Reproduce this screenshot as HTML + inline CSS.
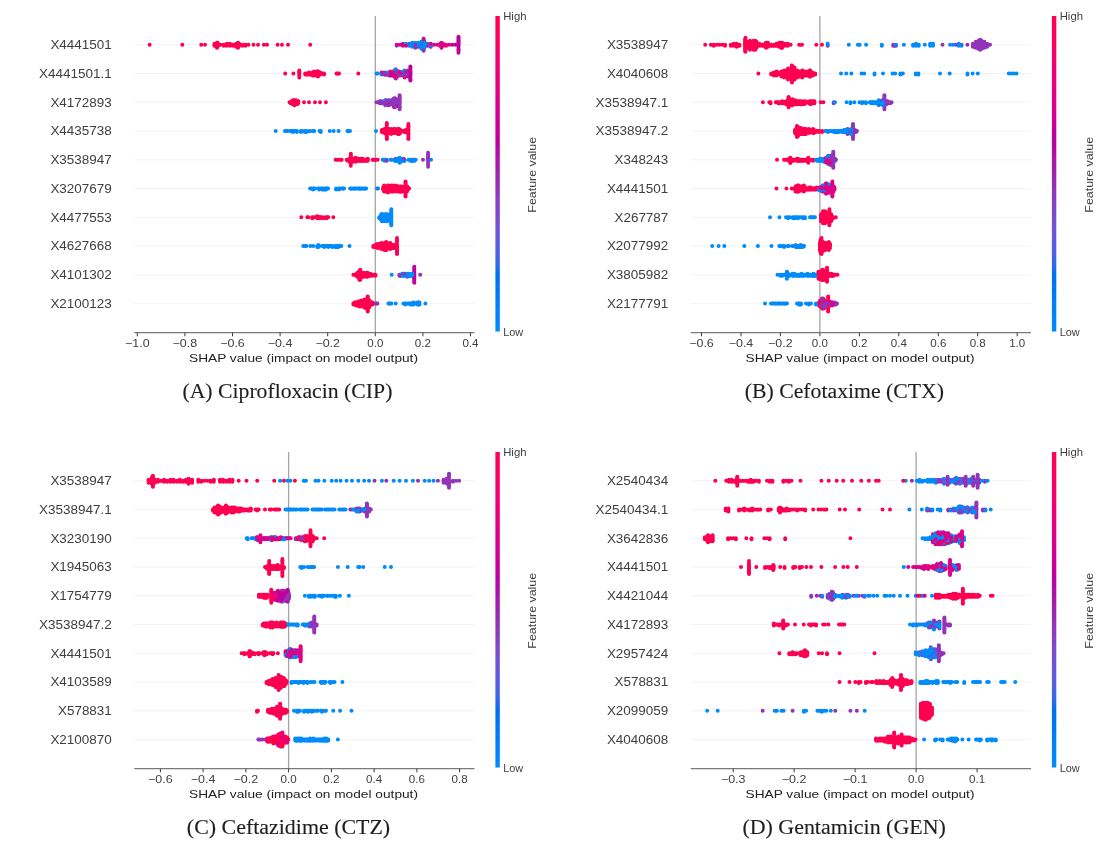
<!DOCTYPE html><html><head><meta charset="utf-8"><style>html,body{margin:0;padding:0;background:#fff;}svg{display:block;will-change:transform;}</style></head><body>
<svg width="1119" height="853" viewBox="0 0 1119 853">
<defs><linearGradient id="cb" x1="0" y1="0" x2="0" y2="1"><stop offset="0.000" stop-color="#ff0051"/><stop offset="0.030" stop-color="#ff0058"/><stop offset="0.061" stop-color="#fd005f"/><stop offset="0.091" stop-color="#fa0065"/><stop offset="0.121" stop-color="#f6006c"/><stop offset="0.152" stop-color="#f10072"/><stop offset="0.182" stop-color="#ec0078"/><stop offset="0.212" stop-color="#e7007e"/><stop offset="0.242" stop-color="#e10084"/><stop offset="0.273" stop-color="#db008a"/><stop offset="0.303" stop-color="#d40090"/><stop offset="0.333" stop-color="#cd0095"/><stop offset="0.364" stop-color="#c5009a"/><stop offset="0.394" stop-color="#bc009f"/><stop offset="0.424" stop-color="#b30aa3"/><stop offset="0.455" stop-color="#aa17a7"/><stop offset="0.485" stop-color="#a01fab"/><stop offset="0.515" stop-color="#9829b1"/><stop offset="0.545" stop-color="#9233b9"/><stop offset="0.576" stop-color="#8a3cc0"/><stop offset="0.606" stop-color="#8244c7"/><stop offset="0.636" stop-color="#794cce"/><stop offset="0.667" stop-color="#6f52d4"/><stop offset="0.697" stop-color="#6459da"/><stop offset="0.727" stop-color="#575fdf"/><stop offset="0.758" stop-color="#4664e4"/><stop offset="0.788" stop-color="#306ae9"/><stop offset="0.818" stop-color="#006fed"/><stop offset="0.848" stop-color="#0074f0"/><stop offset="0.879" stop-color="#0079f3"/><stop offset="0.909" stop-color="#007ef6"/><stop offset="0.939" stop-color="#0082f8"/><stop offset="0.970" stop-color="#0086fa"/><stop offset="1.000" stop-color="#008bfb"/><stop offset="1" stop-color="#008bfb"/></linearGradient></defs>
<rect width="1119" height="853" fill="#fff"/>
<g font-family='"Liberation Sans", sans-serif'><line x1="134.3" y1="44.75" x2="474.5" y2="44.75" stroke="#f3f3f3" stroke-width="1"/><line x1="134.3" y1="73.51" x2="474.5" y2="73.51" stroke="#f3f3f3" stroke-width="1"/><line x1="134.3" y1="102.27" x2="474.5" y2="102.27" stroke="#f3f3f3" stroke-width="1"/><line x1="134.3" y1="131.03" x2="474.5" y2="131.03" stroke="#f3f3f3" stroke-width="1"/><line x1="134.3" y1="159.79" x2="474.5" y2="159.79" stroke="#f3f3f3" stroke-width="1"/><line x1="134.3" y1="188.55" x2="474.5" y2="188.55" stroke="#f3f3f3" stroke-width="1"/><line x1="134.3" y1="217.31" x2="474.5" y2="217.31" stroke="#f3f3f3" stroke-width="1"/><line x1="134.3" y1="246.07" x2="474.5" y2="246.07" stroke="#f3f3f3" stroke-width="1"/><line x1="134.3" y1="274.83" x2="474.5" y2="274.83" stroke="#f3f3f3" stroke-width="1"/><line x1="134.3" y1="303.59" x2="474.5" y2="303.59" stroke="#f3f3f3" stroke-width="1"/><line x1="375.3" y1="16.0" x2="375.3" y2="332.7" stroke="#a5a5a5" stroke-width="1.3"/><g transform="translate(0,0)"><g fill="none" stroke-width="4" stroke-linecap="round"><path d="M396.7 45.8h0M412.2 43.8h0M423.6 39.8h0M427.6 43.8h0M421.4 41.8h0M423.6 43.8h0M424.5 41.8h0M412.2 46.8h0M415.3 46.8h0M421.4 44.8h0M418.3 44.8h0M421.4 47.8h0M409.1 43.8h0M404.1 73.5h0M395.4 74.5h0M376.6 73.5h0M401.6 74.5h0M393.0 105.3h0M385.3 100.3h0M304.9 132.0h0M320.8 131.0h0M376.0 131.0h0M320.8 132.0h0M319.5 131.0h0M308.9 131.0h0M310.2 131.0h0M306.2 131.0h0M275.7 131.0h0M296.9 132.0h0M294.3 131.0h0M431.0 159.8h0M384.7 160.8h0M414.7 159.8h0M384.7 159.8h0M397.7 159.8h0M404.7 160.8h0M403.7 159.8h0M399.6 162.8h0M398.7 159.8h0M398.7 158.8h0M391.7 159.8h0M399.6 161.8h0M395.7 160.8h0M412.7 160.8h0M362.1 188.6h0M310.1 188.6h0M318.1 188.6h0M359.1 188.6h0M378.1 188.6h0M327.1 188.6h0M325.1 188.6h0M365.1 188.6h0M354.1 188.6h0M319.1 189.6h0M339.1 188.6h0M388.3 219.3h0M386.3 220.3h0M384.3 221.3h0M385.3 219.3h0M380.3 216.3h0M391.3 222.3h0M388.3 216.3h0M388.3 220.3h0M384.3 214.3h0M385.3 218.3h0M384.3 216.3h0M391.3 214.3h0M389.3 220.3h0M385.3 216.3h0M381.3 220.3h0M391.3 211.3h0M387.3 221.3h0M381.3 217.3h0M391.3 220.3h0M381.3 218.3h0M386.3 218.3h0M382.3 218.3h0M384.3 218.3h0M379.3 217.3h0M380.3 218.3h0M388.3 215.3h0M387.3 219.3h0M391.3 217.3h0M331.3 246.1h0M305.3 246.1h0M328.3 247.1h0M318.3 245.1h0M330.3 246.1h0M341.3 246.1h0M322.3 246.1h0M317.3 246.1h0M329.3 246.1h0M408.4 273.8h0M405.4 275.8h0M412.4 275.8h0M401.4 274.8h0M407.4 273.8h0M404.4 275.8h0M406.4 274.8h0M410.4 275.8h0M400.4 274.8h0M395.7 303.6h0M419.4 304.6h0M425.4 303.6h0M411.4 303.6h0M418.4 302.6h0M412.4 303.6h0M413.4 302.6h0M410.4 304.6h0M414.4 303.6h0" stroke="#008bfb"/><path d="M458.5 37.8h0M458.5 39.8h0M423.6 47.8h0M427.6 45.8h0M418.3 46.8h0M458.5 42.8h0M440.0 45.8h0M458.5 44.8h0M455.4 44.8h0M452.3 44.8h0M410.4 79.5h0M410.4 74.5h0M404.1 72.5h0M410.4 72.5h0M389.1 72.5h0M401.6 73.5h0M407.9 74.5h0M407.9 71.5h0M394.1 71.5h0M389.7 102.3h0M396.3 100.3h0M395.0 102.3h0M388.6 105.3h0M393.0 101.3h0M414.3 276.8h0M414.3 268.8h0M414.3 269.8h0M414.3 274.8h0M414.3 278.8h0" stroke="#bf009d"/><path d="M217.0 47.8h0M238.0 42.8h0M214.5 45.8h0M443.1 44.8h0M238.0 44.8h0M282.0 44.8h0M253.5 44.8h0M239.2 44.8h0M226.8 43.8h0M201.3 44.8h0M226.8 45.8h0M267.0 44.8h0M236.1 46.8h0M239.2 45.8h0M217.6 44.8h0M277.6 44.8h0M238.0 45.8h0M217.0 43.8h0M390.4 72.5h0M299.3 73.5h0M339.0 73.5h0M299.3 76.5h0M391.6 75.5h0M385.4 73.5h0M314.0 72.5h0M299.3 75.5h0M395.7 78.5h0M396.6 72.5h0M299.3 71.5h0M315.2 74.5h0M406.6 75.5h0M317.8 71.5h0M317.8 75.5h0M320.3 74.5h0M395.7 73.5h0M315.2 72.5h0M310.2 73.5h0M299.3 77.5h0M311.5 74.5h0M318.0 72.5h0M299.3 74.5h0M387.9 73.5h0M316.5 75.5h0M322.8 73.5h0M336.5 73.5h0M404.5 73.5h0M297.2 103.3h0M291.7 102.3h0M293.9 104.3h0M294.4 100.3h0M309.0 102.3h0M295.0 101.3h0M293.9 103.3h0M293.9 101.3h0M292.8 101.3h0M296.1 101.3h0M297.2 101.3h0M290.6 102.3h0M289.5 102.3h0M381.9 130.0h0M397.8 129.0h0M399.1 130.0h0M392.5 132.0h0M383.2 132.0h0M385.8 129.0h0M386.8 137.0h0M397.8 130.0h0M384.5 133.0h0M393.8 130.0h0M386.8 129.0h0M395.1 131.0h0M400.4 131.0h0M400.4 130.0h0M398.6 132.0h0M400.4 133.0h0M408.4 129.0h0M392.5 130.0h0M396.5 130.0h0M391.1 130.0h0M398.6 131.0h0M408.4 131.0h0M386.8 138.0h0M408.4 124.0h0M391.1 131.0h0M392.5 131.0h0M408.4 128.0h0M392.5 133.0h0M408.4 139.0h0M397.8 133.0h0M391.1 133.0h0M408.4 125.0h0M388.5 132.0h0M408.4 132.0h0M381.9 131.0h0M408.4 133.0h0M389.8 133.0h0M338.7 159.8h0M362.7 159.8h0M353.7 159.8h0M366.7 159.8h0M362.7 160.8h0M357.7 159.8h0M355.7 159.8h0M356.7 160.8h0M355.7 161.8h0M375.7 159.8h0M335.7 159.8h0M361.7 160.8h0M354.7 160.8h0M355.7 160.8h0M350.8 162.8h0M350.8 155.8h0M360.7 159.8h0M367.7 160.8h0M355.7 158.8h0M354.7 159.8h0M337.7 159.8h0M359.7 159.8h0M347.7 160.8h0M353.7 160.8h0M361.7 159.8h0M341.7 159.8h0M360.7 158.8h0M350.8 153.8h0M409.1 188.6h0M408.1 189.6h0M405.5 190.6h0M394.1 189.6h0M388.0 186.6h0M402.1 187.6h0M385.1 189.6h0M385.1 188.6h0M383.1 189.6h0M391.1 190.6h0M397.1 188.6h0M400.1 188.6h0M399.1 188.6h0M396.1 191.6h0M399.1 190.6h0M400.1 190.6h0M388.1 191.6h0M392.1 189.6h0M388.0 191.6h0M407.0 190.6h0M407.1 189.6h0M396.1 187.6h0M384.1 185.6h0M397.1 186.6h0M398.1 189.6h0M395.1 189.6h0M388.0 192.6h0M386.1 187.6h0M390.1 188.6h0M402.1 188.6h0M389.1 190.6h0M394.1 187.6h0M393.1 191.6h0M405.5 186.6h0M407.0 188.6h0M393.1 185.6h0M408.1 188.6h0M399.1 189.6h0M405.5 182.6h0M396.1 185.6h0M389.1 188.6h0M405.5 185.6h0M387.1 189.6h0M400.1 191.6h0M405.5 192.6h0M385.1 187.6h0M393.1 190.6h0M405.5 187.6h0M390.1 189.6h0M402.1 191.6h0M396.1 190.6h0M384.1 186.6h0M387.1 188.6h0M402.1 190.6h0M323.3 218.3h0M328.3 217.3h0M323.3 217.3h0M319.3 217.3h0M321.3 217.3h0M317.3 218.3h0M316.3 217.3h0M307.3 217.3h0M333.3 217.3h0M391.3 247.1h0M397.0 251.1h0M390.3 245.1h0M380.3 247.1h0M376.3 246.1h0M385.8 250.1h0M395.3 246.1h0M391.3 246.1h0M385.8 248.1h0M380.3 246.1h0M385.8 247.1h0M385.3 245.1h0M390.3 247.1h0M383.3 248.1h0M390.3 243.1h0M393.3 245.1h0M388.3 246.1h0M381.3 248.1h0M378.3 244.1h0M381.3 243.1h0M384.3 245.1h0M375.3 247.1h0M392.3 248.1h0M397.0 254.1h0M390.3 244.1h0M386.3 249.1h0M376.3 245.1h0M385.3 247.1h0M381.3 249.1h0M389.3 245.1h0M397.0 248.1h0M384.3 244.1h0M394.3 245.1h0M393.3 246.1h0M379.3 247.1h0M383.3 245.1h0M385.3 243.1h0M397.0 246.1h0M385.3 249.1h0M377.3 246.1h0M390.3 248.1h0M383.3 246.1h0M383.3 247.1h0M384.3 248.1h0M384.3 246.1h0M385.8 245.1h0M365.4 275.8h0M360.3 276.8h0M360.4 276.8h0M360.3 269.8h0M362.4 273.8h0M363.4 276.8h0M360.3 274.8h0M369.4 273.8h0M366.4 272.8h0M359.4 275.8h0M364.4 274.8h0M353.4 274.8h0M358.4 274.8h0M368.4 275.8h0M359.4 278.8h0M359.4 271.8h0M356.4 275.8h0M360.3 273.8h0M359.4 277.8h0M357.4 272.8h0M360.3 275.8h0M361.4 276.8h0M356.4 273.8h0M360.3 272.8h0M369.4 275.8h0M361.4 273.8h0M359.4 270.8h0M366.5 308.6h0M361.4 303.6h0M365.4 301.6h0M366.5 305.6h0M358.4 302.6h0M356.4 302.6h0M366.5 306.6h0M371.4 304.6h0M366.4 305.6h0M366.4 304.6h0M360.4 305.6h0M365.4 306.6h0M363.4 303.6h0M369.0 302.6h0M369.0 307.6h0M364.4 302.6h0M356.4 305.6h0M358.4 305.6h0M366.5 300.6h0M364.4 306.6h0M364.4 300.6h0M369.4 304.6h0M361.4 306.6h0M367.7 302.6h0M362.4 305.6h0M363.4 305.6h0M355.4 304.6h0M361.4 302.6h0M367.7 308.6h0M367.7 297.6h0M360.4 304.6h0M369.0 301.6h0M365.4 307.6h0M363.4 302.6h0M360.4 302.6h0M357.4 303.6h0M372.4 303.6h0M361.4 305.6h0M364.4 305.6h0M367.7 301.6h0M370.4 302.6h0M369.0 306.6h0" stroke="#ff0051"/><path d="M409.1 44.8h0M415.3 45.8h0M421.4 43.8h0M412.2 44.8h0M423.6 49.8h0M402.9 43.8h0M406.0 44.8h0M404.5 76.5h0M391.6 74.5h0M395.7 74.5h0M406.6 73.5h0M394.1 101.3h0M384.2 103.3h0M391.9 102.3h0M395.2 105.3h0M394.1 106.3h0M399.6 97.3h0M399.6 104.3h0M395.2 99.3h0M395.2 101.3h0M379.8 103.3h0M378.7 102.3h0M379.8 102.3h0M387.5 104.3h0M388.6 103.3h0M399.6 106.3h0M399.6 105.3h0M395.2 100.3h0M385.3 102.3h0M389.7 103.3h0M395.2 104.3h0M399.6 102.3h0M379.8 101.3h0M391.9 103.3h0M399.6 95.3h0M395.2 103.3h0M396.3 104.3h0M385.3 101.3h0M389.7 104.3h0M390.8 101.3h0M390.8 104.3h0M386.4 101.3h0M396.3 101.3h0M428.1 157.8h0M383.7 159.8h0M411.7 159.8h0M394.7 159.8h0M413.7 159.8h0M395.7 158.8h0M404.4 274.8h0M420.2 274.8h0M399.4 274.8h0M400.4 275.8h0M401.4 275.8h0M375.4 303.6h0M377.4 303.6h0" stroke="#9233b9"/><path d="M449.2 44.8h0M436.9 44.8h0M441.5 46.8h0M421.4 45.8h0M396.6 75.5h0M406.6 72.5h0M384.1 72.5h0M392.9 73.5h0M395.4 71.5h0M389.1 75.5h0M391.6 72.5h0M402.9 72.5h0M400.4 72.5h0M404.1 74.5h0M397.9 73.5h0M399.1 72.5h0M407.9 70.5h0M399.1 73.5h0M399.1 71.5h0M381.6 72.5h0M397.9 72.5h0M400.4 74.5h0" stroke="#df0086"/><path d="M242.3 44.8h0M223.7 45.8h0M310.2 44.8h0M217.0 46.8h0M248.4 44.8h0M245.4 44.8h0M446.1 45.8h0M229.9 44.8h0M229.9 45.8h0M233.0 44.8h0M217.6 42.8h0M226.8 44.8h0M238.0 43.8h0M239.2 43.8h0M217.6 46.8h0M238.0 46.8h0M236.1 45.8h0M263.9 44.8h0M236.1 44.8h0M214.5 43.8h0M312.7 72.5h0M318.0 76.5h0M305.2 73.5h0M407.9 75.5h0M306.5 73.5h0M314.0 74.5h0M405.4 75.5h0M306.5 74.5h0M299.3 70.5h0M404.5 77.5h0M317.8 72.5h0M319.0 73.5h0M318.0 71.5h0M285.2 73.5h0M395.7 77.5h0M314.0 75.5h0M307.7 73.5h0M314.0 73.5h0M395.7 76.5h0M299.3 72.5h0M314.0 71.5h0M312.7 75.5h0M309.0 73.5h0M316.5 73.5h0M305.2 74.5h0M396.6 70.5h0M324.0 74.5h0M310.2 74.5h0M309.0 74.5h0M312.7 74.5h0M309.0 72.5h0M320.0 102.3h0M304.0 102.3h0M290.6 103.3h0M296.1 102.3h0M298.3 103.3h0M294.4 101.3h0M294.4 105.3h0M298.3 101.3h0M297.2 104.3h0M291.7 103.3h0M296.1 103.3h0M297.2 102.3h0M294.4 104.3h0M292.8 102.3h0M295.0 102.3h0M386.8 125.0h0M388.5 131.0h0M384.5 129.0h0M393.8 132.0h0M385.8 133.0h0M404.4 131.0h0M395.1 129.0h0M388.5 133.0h0M389.8 132.0h0M404.4 132.0h0M405.7 130.0h0M391.1 129.0h0M389.8 130.0h0M393.8 133.0h0M408.4 136.0h0M386.8 133.0h0M405.7 132.0h0M395.1 133.0h0M408.4 137.0h0M396.5 131.0h0M408.4 127.0h0M398.6 130.0h0M405.7 131.0h0M385.8 131.0h0M386.8 132.0h0M408.4 135.0h0M398.6 134.0h0M386.8 126.0h0M385.8 130.0h0M389.8 129.0h0M386.8 130.0h0M385.8 132.0h0M408.4 138.0h0M386.8 127.0h0M399.1 132.0h0M383.2 130.0h0M367.7 159.8h0M359.7 160.8h0M372.7 159.8h0M363.7 159.8h0M349.7 161.8h0M349.7 158.8h0M347.7 159.8h0M366.7 160.8h0M365.7 160.8h0M377.7 159.8h0M346.7 159.8h0M356.7 159.8h0M364.7 160.8h0M352.7 161.8h0M364.7 159.8h0M348.7 159.8h0M352.7 160.8h0M352.7 158.8h0M354.7 158.8h0M395.1 187.6h0M405.5 183.6h0M388.1 188.6h0M405.5 188.6h0M394.1 190.6h0M400.1 187.6h0M389.1 187.6h0M386.1 186.6h0M390.1 190.6h0M396.1 186.6h0M388.0 190.6h0M389.1 189.6h0M407.0 186.6h0M384.1 189.6h0M399.1 187.6h0M387.1 187.6h0M391.1 188.6h0M392.1 187.6h0M407.1 190.6h0M398.1 188.6h0M394.1 186.6h0M398.1 186.6h0M391.1 191.6h0M405.5 184.6h0M394.1 188.6h0M398.1 187.6h0M385.1 190.6h0M405.5 194.6h0M388.0 188.6h0M400.1 186.6h0M405.5 196.6h0M405.5 193.6h0M393.1 188.6h0M392.1 186.6h0M384.1 190.6h0M397.1 187.6h0M407.0 189.6h0M386.1 189.6h0M396.1 188.6h0M398.1 190.6h0M386.1 188.6h0M407.0 187.6h0M393.1 186.6h0M392.1 190.6h0M392.1 191.6h0M391.1 187.6h0M317.3 216.3h0M313.3 217.3h0M320.3 218.3h0M320.3 217.3h0M301.3 217.3h0M318.3 218.3h0M326.3 218.3h0M315.3 217.3h0M326.3 217.3h0M312.3 217.3h0M388.3 247.1h0M391.3 248.1h0M391.3 245.1h0M397.0 238.1h0M385.8 244.1h0M389.3 246.1h0M397.0 239.1h0M377.3 245.1h0M394.3 247.1h0M373.3 247.1h0M381.3 246.1h0M388.3 245.1h0M384.3 243.1h0M397.0 252.1h0M397.0 240.1h0M378.3 247.1h0M381.3 247.1h0M390.3 249.1h0M381.3 244.1h0M376.3 247.1h0M385.3 246.1h0M378.3 246.1h0M387.3 246.1h0M384.3 247.1h0M373.3 246.1h0M397.0 243.1h0M392.3 246.1h0M397.0 245.1h0M393.3 248.1h0M397.0 242.1h0M375.3 246.1h0M386.3 245.1h0M374.3 246.1h0M379.3 246.1h0M397.0 247.1h0M382.3 247.1h0M377.3 247.1h0M397.0 244.1h0M386.3 247.1h0M382.3 245.1h0M387.3 245.1h0M387.3 247.1h0M379.3 245.1h0M392.3 245.1h0M357.4 273.8h0M360.4 273.8h0M360.3 278.8h0M359.4 273.8h0M360.3 271.8h0M363.4 275.8h0M360.4 272.8h0M375.4 275.8h0M364.4 273.8h0M367.4 274.8h0M358.4 276.8h0M363.4 273.8h0M360.4 275.8h0M368.4 273.8h0M369.4 274.8h0M355.4 274.8h0M372.4 274.8h0M359.4 272.8h0M363.4 274.8h0M359.4 279.8h0M360.4 274.8h0M359.4 274.8h0M363.4 272.8h0M358.4 273.8h0M371.4 274.8h0M365.4 273.8h0M370.4 275.8h0M361.4 274.8h0M367.7 304.6h0M369.4 302.6h0M367.7 298.6h0M364.4 299.6h0M369.0 304.6h0M367.7 311.6h0M369.4 300.6h0M354.4 302.6h0M358.4 303.6h0M363.4 301.6h0M369.4 303.6h0M366.5 302.6h0M372.4 302.6h0M359.4 303.6h0M369.4 305.6h0M367.7 299.6h0M362.4 304.6h0M364.4 303.6h0M367.7 305.6h0M358.4 301.6h0M367.7 309.6h0M362.4 301.6h0M369.4 306.6h0M366.5 303.6h0M366.4 303.6h0M353.4 304.6h0M363.4 304.6h0M365.4 300.6h0M366.4 302.6h0M366.4 301.6h0M361.4 300.6h0M353.4 303.6h0M358.4 304.6h0M355.4 303.6h0M365.4 302.6h0M356.4 304.6h0M365.4 305.6h0M359.4 305.6h0" stroke="#ff0051"/><path d="M433.8 44.8h0M440.0 43.8h0M440.0 44.8h0M443.1 43.8h0M443.1 45.8h0M423.6 44.8h0M396.7 44.8h0M423.6 42.8h0M423.6 45.8h0M441.5 44.8h0M399.8 44.8h0M397.9 74.5h0M402.9 74.5h0M384.1 74.5h0M395.4 70.5h0M394.1 75.5h0M407.9 76.5h0M386.6 74.5h0M405.4 74.5h0M404.5 72.5h0M392.9 74.5h0M389.1 73.5h0M396.6 77.5h0M381.6 73.5h0M407.9 72.5h0" stroke="#df0086"/><path d="M415.3 43.8h0M427.6 44.8h0M423.6 40.8h0M423.6 46.8h0M423.6 41.8h0M418.3 43.8h0M423.6 48.8h0M424.5 43.8h0M396.6 74.5h0M406.6 74.5h0M404.5 71.5h0M389.1 74.5h0M407.9 73.5h0M395.7 70.5h0M377.6 102.3h0M386.4 104.3h0M388.6 104.3h0M395.0 99.3h0M394.1 100.3h0M397.4 102.3h0M388.6 102.3h0M390.8 103.3h0M395.0 98.3h0M391.9 101.3h0M399.6 96.3h0M395.2 102.3h0M397.4 103.3h0M397.4 104.3h0M399.6 99.3h0M383.1 102.3h0M393.0 100.3h0M399.6 108.3h0M394.1 98.3h0M385.3 103.3h0M376.5 102.3h0M394.1 99.3h0M395.0 104.3h0M396.3 105.3h0M388.6 100.3h0M386.4 100.3h0M387.5 103.3h0M399.6 109.3h0M428.1 159.8h0M428.1 162.8h0M428.1 166.8h0M428.1 163.8h0M411.7 160.8h0M423.0 159.8h0M428.1 164.8h0M428.1 152.8h0M428.1 165.8h0M428.1 153.8h0M428.1 161.8h0M428.1 160.8h0M428.1 155.8h0M407.4 276.8h0M408.4 275.8h0M376.4 303.6h0" stroke="#9233b9"/><path d="M424.5 46.8h0M458.5 36.8h0M458.5 49.8h0M458.5 41.8h0M402.9 44.8h0M410.4 76.5h0M410.4 66.5h0M396.6 73.5h0M410.4 77.5h0M410.4 75.5h0M410.4 78.5h0M401.6 72.5h0M410.4 71.5h0M393.0 104.3h0M396.3 103.3h0M395.0 106.3h0M385.3 104.3h0M386.4 103.3h0M414.3 272.8h0M414.3 277.8h0M414.3 281.8h0M414.3 275.8h0M414.3 270.8h0M414.3 271.8h0" stroke="#bf009d"/><path d="M424.5 47.8h0M421.4 42.8h0M421.4 48.8h0M418.3 42.8h0M418.3 45.8h0M424.5 45.8h0M412.2 42.8h0M390.4 73.5h0M381.6 74.5h0M395.4 77.5h0M395.7 71.5h0M386.6 73.5h0M382.0 103.3h0M396.3 102.3h0M383.1 101.3h0M304.9 131.0h0M296.9 131.0h0M286.3 131.0h0M293.0 131.0h0M347.4 131.0h0M290.3 131.0h0M312.9 131.0h0M293.0 132.0h0M306.2 132.0h0M285.0 131.0h0M300.9 132.0h0M300.9 131.0h0M385.7 159.8h0M399.7 158.8h0M397.7 158.8h0M394.7 160.8h0M399.7 159.8h0M408.7 159.8h0M386.7 159.8h0M399.6 160.8h0M399.7 160.8h0M395.7 159.8h0M401.7 159.8h0M400.7 161.8h0M382.7 159.8h0M399.6 158.8h0M390.7 159.8h0M400.7 160.8h0M396.7 160.8h0M360.1 188.6h0M322.1 189.6h0M350.1 188.6h0M356.1 188.6h0M358.1 188.6h0M377.1 188.6h0M353.1 188.6h0M313.1 188.6h0M336.1 189.6h0M342.1 188.6h0M355.1 188.6h0M344.1 188.6h0M361.1 188.6h0M323.1 188.6h0M326.1 188.6h0M326.1 189.6h0M323.1 189.6h0M357.1 188.6h0M386.3 215.3h0M391.3 213.3h0M382.0 217.3h0M391.3 215.3h0M391.3 216.3h0M389.3 218.3h0M382.3 219.3h0M389.3 217.3h0M383.3 216.3h0M391.3 210.3h0M381.3 219.3h0M389.3 215.3h0M382.0 214.3h0M388.3 218.3h0M382.3 217.3h0M381.3 215.3h0M387.3 220.3h0M384.3 220.3h0M391.3 224.3h0M391.3 221.3h0M386.3 216.3h0M391.3 219.3h0M382.0 215.3h0M384.3 215.3h0M387.3 214.3h0M385.3 220.3h0M391.3 209.3h0M332.3 247.1h0M324.3 246.1h0M335.3 246.1h0M310.3 246.1h0M306.3 246.1h0M349.5 246.1h0M313.3 246.1h0M338.3 247.1h0M324.3 247.1h0M317.3 247.1h0M327.3 246.1h0M328.3 246.1h0M411.4 273.8h0M410.4 274.8h0M408.4 274.8h0M407.4 275.8h0M402.4 274.8h0M405.4 274.8h0M403.4 275.8h0M407.4 274.8h0M402.4 275.8h0M402.4 273.8h0M413.4 303.6h0M390.4 303.6h0M412.4 304.6h0M391.4 303.6h0M408.4 303.6h0M417.4 303.6h0M407.4 303.6h0M419.4 303.6h0M417.4 302.6h0M405.4 304.6h0M409.4 303.6h0M388.4 303.6h0M419.4 302.6h0" stroke="#008bfb"/><path d="M220.6 44.8h0M242.3 45.8h0M217.0 45.8h0M217.0 42.8h0M288.0 44.8h0M217.0 44.8h0M214.5 44.8h0M217.6 43.8h0M217.6 45.8h0M258.0 44.8h0M182.3 44.8h0M205.0 44.8h0M229.9 43.8h0M233.0 45.8h0M441.5 43.8h0M149.6 44.8h0M236.1 43.8h0M223.7 44.8h0M238.0 47.8h0M245.4 45.8h0M319.0 74.5h0M312.7 73.5h0M395.7 72.5h0M394.1 74.5h0M395.4 75.5h0M318.0 75.5h0M315.2 73.5h0M317.8 73.5h0M316.5 72.5h0M318.0 74.5h0M320.3 72.5h0M320.3 73.5h0M293.4 73.5h0M317.8 74.5h0M316.5 71.5h0M390.4 71.5h0M311.5 73.5h0M358.3 73.5h0M316.5 74.5h0M395.4 72.5h0M319.0 72.5h0M394.1 73.5h0M318.0 73.5h0M324.0 73.5h0M390.4 74.5h0M394.1 72.5h0M337.8 73.5h0M402.9 73.5h0M292.8 103.3h0M296.1 104.3h0M291.7 101.3h0M296.1 100.3h0M292.8 104.3h0M294.4 103.3h0M292.8 100.3h0M325.9 102.3h0M294.4 102.3h0M315.0 102.3h0M298.3 102.3h0M293.9 102.3h0M295.0 103.3h0M388.5 130.0h0M401.8 131.0h0M393.8 131.0h0M386.8 136.0h0M399.1 131.0h0M383.2 131.0h0M386.8 139.0h0M385.8 134.0h0M399.1 129.0h0M397.8 132.0h0M386.8 134.0h0M384.5 130.0h0M396.5 132.0h0M386.8 131.0h0M384.5 132.0h0M397.8 134.0h0M384.5 131.0h0M386.8 124.0h0M397.8 131.0h0M408.4 134.0h0M408.4 130.0h0M400.4 132.0h0M391.1 132.0h0M395.1 132.0h0M389.8 131.0h0M399.1 133.0h0M381.9 132.0h0M391.1 134.0h0M386.8 135.0h0M403.1 131.0h0M408.4 126.0h0M398.6 129.0h0M386.8 123.0h0M393.8 129.0h0M398.6 133.0h0M395.1 130.0h0M399.1 134.0h0M386.8 128.0h0M357.7 160.8h0M349.7 160.8h0M350.8 158.8h0M352.7 159.8h0M367.7 158.8h0M350.8 157.8h0M358.7 160.8h0M350.8 160.8h0M350.8 164.8h0M350.8 163.8h0M340.7 159.8h0M350.8 156.8h0M362.7 158.8h0M355.7 157.8h0M365.7 159.8h0M350.8 154.8h0M373.7 159.8h0M374.7 159.8h0M350.8 165.8h0M350.8 161.8h0M363.7 160.8h0M350.8 159.8h0M358.7 159.8h0M349.7 159.8h0M360.7 160.8h0M353.7 158.8h0M358.7 158.8h0M402.1 186.6h0M400.1 189.6h0M388.1 190.6h0M388.1 185.6h0M407.1 187.6h0M388.1 186.6h0M401.1 189.6h0M395.1 186.6h0M386.1 191.6h0M387.1 190.6h0M396.1 189.6h0M407.0 191.6h0M391.1 189.6h0M405.5 195.6h0M405.5 181.6h0M388.1 187.6h0M401.1 191.6h0M393.1 189.6h0M385.1 186.6h0M386.1 190.6h0M391.1 186.6h0M384.1 191.6h0M388.1 189.6h0M402.1 189.6h0M397.1 189.6h0M405.5 191.6h0M395.1 188.6h0M384.1 187.6h0M401.1 186.6h0M384.1 188.6h0M392.1 188.6h0M388.0 185.6h0M388.0 187.6h0M401.1 190.6h0M393.1 187.6h0M390.1 187.6h0M395.1 190.6h0M398.1 191.6h0M407.1 186.6h0M391.1 185.6h0M383.1 188.6h0M407.1 188.6h0M408.1 187.6h0M401.1 187.6h0M405.5 189.6h0M397.1 190.6h0M401.1 188.6h0M383.1 187.6h0M388.0 189.6h0M317.3 217.3h0M319.3 218.3h0M327.3 217.3h0M312.3 218.3h0M308.3 217.3h0M318.3 217.3h0M390.3 246.1h0M395.3 247.1h0M382.3 246.1h0M387.3 249.1h0M380.3 245.1h0M385.8 249.1h0M392.3 247.1h0M389.3 247.1h0M385.3 244.1h0M386.3 242.1h0M386.3 248.1h0M389.3 248.1h0M395.3 248.1h0M397.0 253.1h0M382.3 248.1h0M378.3 245.1h0M397.0 241.1h0M387.3 248.1h0M397.0 250.1h0M393.3 247.1h0M386.3 243.1h0M378.3 248.1h0M386.3 250.1h0M385.8 246.1h0M394.3 246.1h0M384.3 250.1h0M385.3 248.1h0M397.0 249.1h0M395.3 245.1h0M387.3 243.1h0M384.3 249.1h0M385.8 243.1h0M377.3 248.1h0M386.3 244.1h0M375.3 245.1h0M381.3 245.1h0M387.3 244.1h0M385.3 250.1h0M377.3 244.1h0M386.3 246.1h0M366.4 275.8h0M357.4 275.8h0M370.4 273.8h0M359.4 276.8h0M358.4 275.8h0M360.3 270.8h0M367.4 275.8h0M375.4 274.8h0M360.3 279.8h0M362.4 276.8h0M360.3 277.8h0M357.4 276.8h0M368.4 274.8h0M372.4 275.8h0M367.4 273.8h0M366.4 273.8h0M370.4 274.8h0M366.4 274.8h0M362.4 274.8h0M367.4 276.8h0M367.4 272.8h0M374.4 274.8h0M357.4 274.8h0M365.4 274.8h0M361.4 275.8h0M356.4 274.8h0M364.4 275.8h0M366.4 276.8h0M362.4 275.8h0M370.4 304.6h0M366.5 299.6h0M357.4 304.6h0M364.4 307.6h0M366.5 304.6h0M355.4 302.6h0M362.4 303.6h0M369.0 300.6h0M359.4 301.6h0M359.4 304.6h0M367.7 300.6h0M372.4 304.6h0M361.4 301.6h0M354.4 303.6h0M366.5 307.6h0M361.4 304.6h0M366.5 301.6h0M364.4 304.6h0M362.4 302.6h0M367.7 296.6h0M366.4 306.6h0M365.4 304.6h0M367.7 307.6h0M370.4 303.6h0M364.4 301.6h0M359.4 306.6h0M369.0 303.6h0M359.4 302.6h0M369.0 305.6h0M371.4 303.6h0M357.4 302.6h0M367.7 310.6h0M365.4 303.6h0M371.4 302.6h0M360.4 301.6h0M367.7 303.6h0M360.4 303.6h0M354.4 304.6h0M356.4 303.6h0M367.7 306.6h0M369.4 301.6h0" stroke="#ff0051"/><path d="M458.5 52.8h0M458.5 50.8h0M430.7 46.8h0M458.5 40.8h0M458.5 38.8h0M458.5 48.8h0M458.5 46.8h0M458.5 51.8h0M441.5 45.8h0M458.5 47.8h0M458.5 45.8h0M458.5 43.8h0M395.4 76.5h0M410.4 73.5h0M390.4 75.5h0M391.6 73.5h0M410.4 68.5h0M410.4 80.5h0M410.4 67.5h0M410.4 69.5h0M410.4 70.5h0M395.7 69.5h0M388.6 101.3h0M395.0 100.3h0M394.1 107.3h0M396.3 106.3h0M380.9 102.3h0M387.5 102.3h0M394.1 105.3h0M390.8 102.3h0M414.3 267.8h0M414.3 266.8h0M414.3 282.8h0M414.3 273.8h0M414.3 279.8h0M414.3 280.8h0" stroke="#bf009d"/><path d="M406.0 43.8h0M409.1 45.8h0M412.2 45.8h0M424.5 42.8h0M430.7 44.8h0M421.4 46.8h0M430.7 45.8h0M424.5 44.8h0M415.3 42.8h0M395.4 69.5h0M394.1 70.5h0M386.6 72.5h0M402.9 71.5h0M395.4 73.5h0M404.5 70.5h0M405.4 73.5h0M377.8 73.5h0M389.7 100.3h0M384.2 102.3h0M391.9 100.3h0M382.0 102.3h0M395.0 101.3h0M394.1 104.3h0M314.2 131.0h0M295.6 131.0h0M302.2 131.0h0M333.7 131.0h0M348.7 131.0h0M287.6 131.0h0M350.0 131.0h0M329.8 131.0h0M338.6 131.0h0M291.6 131.0h0M400.7 159.8h0M401.7 160.8h0M413.7 160.8h0M400.7 158.8h0M410.7 160.8h0M404.7 159.8h0M399.6 157.8h0M403.7 160.8h0M399.6 159.8h0M415.7 159.8h0M396.7 159.8h0M410.7 159.8h0M397.7 160.8h0M402.7 159.8h0M398.7 160.8h0M414.7 160.8h0M412.7 159.8h0M364.1 188.6h0M315.1 188.6h0M322.1 188.6h0M313.1 189.6h0M336.1 188.6h0M366.1 188.6h0M351.1 188.6h0M314.1 188.6h0M328.1 188.6h0M311.1 188.6h0M343.1 188.6h0M339.1 189.6h0M340.1 188.6h0M319.1 188.6h0M321.1 188.6h0M389.3 216.3h0M382.0 221.3h0M383.3 219.3h0M387.3 218.3h0M391.3 225.3h0M391.3 218.3h0M387.3 217.3h0M381.3 216.3h0M386.3 217.3h0M385.3 217.3h0M387.3 216.3h0M382.0 219.3h0M382.0 220.3h0M379.3 218.3h0M384.3 219.3h0M385.3 215.3h0M382.0 218.3h0M380.3 217.3h0M386.3 219.3h0M383.3 217.3h0M384.3 217.3h0M388.3 217.3h0M386.3 214.3h0M383.3 218.3h0M382.3 216.3h0M391.3 212.3h0M391.3 223.3h0M387.3 215.3h0M389.3 219.3h0M382.0 216.3h0M381.3 214.3h0M336.3 247.1h0M338.3 246.1h0M318.3 247.1h0M326.3 246.1h0M323.3 246.1h0M337.3 246.1h0M336.3 246.1h0M303.3 246.1h0M319.3 246.1h0M337.3 247.1h0M335.3 247.1h0M318.3 246.1h0M340.3 246.1h0M339.3 246.1h0M332.3 246.1h0M411.4 275.8h0M391.7 274.8h0M403.4 273.8h0M406.4 275.8h0M409.4 274.8h0M412.4 274.8h0M409.4 275.8h0M411.4 274.8h0M412.4 273.8h0M403.4 274.8h0M389.4 303.6h0M413.4 304.6h0M410.4 303.6h0M417.4 304.6h0M418.4 303.6h0M416.4 303.6h0M418.4 304.6h0M404.4 303.6h0M405.4 303.6h0M415.4 303.6h0M403.4 303.6h0" stroke="#008bfb"/><path d="M406.0 45.8h0M441.5 47.8h0M423.6 38.8h0M402.9 45.8h0M430.7 43.8h0M446.1 44.8h0M441.5 42.8h0M392.9 72.5h0M394.1 76.5h0M400.4 73.5h0M400.4 75.5h0M382.9 73.5h0M399.1 74.5h0M405.4 72.5h0M395.7 75.5h0M385.4 74.5h0M396.6 76.5h0" stroke="#df0086"/><path d="M415.3 44.8h0M423.6 50.8h0M415.3 47.8h0M387.9 74.5h0M384.1 73.5h0M404.1 75.5h0M396.6 71.5h0M404.5 74.5h0M399.1 75.5h0M404.5 75.5h0M402.9 75.5h0M380.9 103.3h0M395.0 105.3h0M393.0 103.3h0M395.0 107.3h0M397.4 100.3h0M391.9 104.3h0M395.0 103.3h0M396.3 99.3h0M385.3 105.3h0M399.6 98.3h0M399.6 100.3h0M399.6 101.3h0M389.7 101.3h0M383.1 103.3h0M394.1 102.3h0M399.6 103.3h0M394.1 103.3h0M386.4 102.3h0M397.4 101.3h0M393.0 99.3h0M399.6 107.3h0M387.5 101.3h0M393.0 102.3h0M380.9 101.3h0M428.1 154.8h0M403.7 158.8h0M428.1 156.8h0M386.7 160.8h0M428.1 158.8h0M404.4 273.8h0M399.4 275.8h0" stroke="#9233b9"/></g></g><line x1="134.3" y1="332.7" x2="474.5" y2="332.7" stroke="#7a7a7a" stroke-width="1.3"/><line x1="137.3" y1="332.7" x2="137.3" y2="336.3" stroke="#3a3a3a" stroke-width="1"/><text x="137.3" y="346.8" text-anchor="middle" font-size="10.6" fill="#404040" textLength="24.6" lengthAdjust="spacingAndGlyphs">−1.0</text><line x1="184.9" y1="332.7" x2="184.9" y2="336.3" stroke="#3a3a3a" stroke-width="1"/><text x="184.9" y="346.8" text-anchor="middle" font-size="10.6" fill="#404040" textLength="24.6" lengthAdjust="spacingAndGlyphs">−0.8</text><line x1="232.5" y1="332.7" x2="232.5" y2="336.3" stroke="#3a3a3a" stroke-width="1"/><text x="232.5" y="346.8" text-anchor="middle" font-size="10.6" fill="#404040" textLength="24.6" lengthAdjust="spacingAndGlyphs">−0.6</text><line x1="280.1" y1="332.7" x2="280.1" y2="336.3" stroke="#3a3a3a" stroke-width="1"/><text x="280.1" y="346.8" text-anchor="middle" font-size="10.6" fill="#404040" textLength="24.6" lengthAdjust="spacingAndGlyphs">−0.4</text><line x1="327.7" y1="332.7" x2="327.7" y2="336.3" stroke="#3a3a3a" stroke-width="1"/><text x="327.7" y="346.8" text-anchor="middle" font-size="10.6" fill="#404040" textLength="24.6" lengthAdjust="spacingAndGlyphs">−0.2</text><line x1="375.3" y1="332.7" x2="375.3" y2="336.3" stroke="#3a3a3a" stroke-width="1"/><text x="375.3" y="346.8" text-anchor="middle" font-size="10.6" fill="#404040" textLength="16.1" lengthAdjust="spacingAndGlyphs">0.0</text><line x1="422.9" y1="332.7" x2="422.9" y2="336.3" stroke="#3a3a3a" stroke-width="1"/><text x="422.9" y="346.8" text-anchor="middle" font-size="10.6" fill="#404040" textLength="16.1" lengthAdjust="spacingAndGlyphs">0.2</text><line x1="470.5" y1="332.7" x2="470.5" y2="336.3" stroke="#3a3a3a" stroke-width="1"/><text x="470.5" y="346.8" text-anchor="middle" font-size="10.6" fill="#404040" textLength="16.1" lengthAdjust="spacingAndGlyphs">0.4</text><text x="303.5" y="362.0" text-anchor="middle" font-size="11.5" fill="#222" textLength="229" lengthAdjust="spacingAndGlyphs">SHAP value (impact on model output)</text><text x="111.8" y="49.10" text-anchor="end" font-size="12.3" fill="#404040" textLength="61.4" lengthAdjust="spacingAndGlyphs">X4441501</text><text x="111.8" y="77.86" text-anchor="end" font-size="12.3" fill="#404040" textLength="72.8" lengthAdjust="spacingAndGlyphs">X4441501.1</text><text x="111.8" y="106.62" text-anchor="end" font-size="12.3" fill="#404040" textLength="61.4" lengthAdjust="spacingAndGlyphs">X4172893</text><text x="111.8" y="135.38" text-anchor="end" font-size="12.3" fill="#404040" textLength="61.4" lengthAdjust="spacingAndGlyphs">X4435738</text><text x="111.8" y="164.14" text-anchor="end" font-size="12.3" fill="#404040" textLength="61.4" lengthAdjust="spacingAndGlyphs">X3538947</text><text x="111.8" y="192.90" text-anchor="end" font-size="12.3" fill="#404040" textLength="61.4" lengthAdjust="spacingAndGlyphs">X3207679</text><text x="111.8" y="221.66" text-anchor="end" font-size="12.3" fill="#404040" textLength="61.4" lengthAdjust="spacingAndGlyphs">X4477553</text><text x="111.8" y="250.42" text-anchor="end" font-size="12.3" fill="#404040" textLength="61.4" lengthAdjust="spacingAndGlyphs">X4627668</text><text x="111.8" y="279.18" text-anchor="end" font-size="12.3" fill="#404040" textLength="61.4" lengthAdjust="spacingAndGlyphs">X4101302</text><text x="111.8" y="307.94" text-anchor="end" font-size="12.3" fill="#404040" textLength="61.4" lengthAdjust="spacingAndGlyphs">X2100123</text><rect x="495.4" y="16.0" width="4.4" height="315.5" fill="url(#cb)"/><text x="503.2" y="19.8" font-size="10.6" fill="#404040" textLength="23.3" lengthAdjust="spacingAndGlyphs">High</text><text x="503.2" y="336.2" font-size="10.6" fill="#404040" textLength="20.0" lengthAdjust="spacingAndGlyphs">Low</text><text transform="translate(536.2,174.8) rotate(-90)" text-anchor="middle" font-size="11.5" fill="#404040" textLength="75.7" lengthAdjust="spacingAndGlyphs">Feature value</text><text x="287.4" y="397.6" text-anchor="middle" font-family='"Liberation Serif", serif' font-size="21" fill="#1e1e1e" stroke="#1e1e1e" stroke-width="0.12" textLength="210.0" lengthAdjust="spacingAndGlyphs">(A) Ciprofloxacin (CIP)</text></g>
<g font-family='"Liberation Sans", sans-serif'><line x1="690.8" y1="44.75" x2="1031.0" y2="44.75" stroke="#f3f3f3" stroke-width="1"/><line x1="690.8" y1="73.51" x2="1031.0" y2="73.51" stroke="#f3f3f3" stroke-width="1"/><line x1="690.8" y1="102.27" x2="1031.0" y2="102.27" stroke="#f3f3f3" stroke-width="1"/><line x1="690.8" y1="131.03" x2="1031.0" y2="131.03" stroke="#f3f3f3" stroke-width="1"/><line x1="690.8" y1="159.79" x2="1031.0" y2="159.79" stroke="#f3f3f3" stroke-width="1"/><line x1="690.8" y1="188.55" x2="1031.0" y2="188.55" stroke="#f3f3f3" stroke-width="1"/><line x1="690.8" y1="217.31" x2="1031.0" y2="217.31" stroke="#f3f3f3" stroke-width="1"/><line x1="690.8" y1="246.07" x2="1031.0" y2="246.07" stroke="#f3f3f3" stroke-width="1"/><line x1="690.8" y1="274.83" x2="1031.0" y2="274.83" stroke="#f3f3f3" stroke-width="1"/><line x1="690.8" y1="303.59" x2="1031.0" y2="303.59" stroke="#f3f3f3" stroke-width="1"/><line x1="819.9" y1="16.0" x2="819.9" y2="332.7" stroke="#a5a5a5" stroke-width="1.3"/><g transform="translate(0,0)"><g fill="none" stroke-width="4" stroke-linecap="round"><path d="M958.7 45.8h0M930.2 43.8h0M916.0 44.8h0M918.8 45.8h0M859.7 44.8h0M913.1 45.8h0M857.9 44.8h0M924.8 44.8h0M881.8 44.8h0M918.8 44.8h0M933.0 45.8h0M950.1 44.8h0M902.9 73.5h0M915.8 74.5h0M895.2 73.5h0M864.2 73.5h0M967.5 74.5h0M915.8 73.5h0M977.8 73.5h0M967.5 73.5h0M851.3 73.5h0M1013.9 73.5h0M882.6 104.3h0M883.0 100.3h0M881.3 101.3h0M881.3 104.3h0M859.4 102.3h0M883.0 101.3h0M882.6 101.3h0M865.9 103.3h0M872.3 102.3h0M846.6 102.3h0M833.7 102.3h0M842.0 131.0h0M838.0 131.0h0M844.0 131.0h0M825.0 131.0h0M834.0 131.0h0M832.0 131.0h0M839.0 131.0h0M830.0 131.0h0M850.0 132.0h0M843.0 131.0h0M848.0 130.0h0M846.0 130.0h0M849.0 132.0h0M850.0 133.0h0M817.0 159.8h0M828.0 159.8h0M818.0 159.8h0M820.0 160.8h0M827.0 160.8h0M820.0 159.8h0M824.0 158.8h0M824.5 186.6h0M828.5 185.6h0M823.5 186.6h0M822.5 188.6h0M793.0 218.3h0M788.0 217.3h0M815.0 217.3h0M795.0 217.3h0M813.0 217.3h0M795.0 218.3h0M799.0 217.3h0M814.0 217.3h0M798.0 217.3h0M803.0 217.3h0M803.0 218.3h0M800.5 246.1h0M724.3 246.1h0M782.9 246.1h0M795.8 247.1h0M798.2 246.1h0M771.5 246.1h0M800.5 247.1h0M780.5 246.1h0M788.8 246.1h0M800.5 245.1h0M801.7 247.1h0M797.0 246.1h0M792.3 246.1h0M801.7 246.1h0M797.0 247.1h0M799.4 246.1h0M786.9 271.8h0M780.5 275.8h0M780.5 274.8h0M799.5 274.8h0M799.5 275.8h0M787.5 276.8h0M792.5 274.8h0M793.5 275.8h0M812.5 275.8h0M803.5 275.8h0M812.5 274.8h0M789.5 275.8h0M805.5 274.8h0M786.5 275.8h0M786.5 273.8h0M786.9 274.8h0M800.5 274.8h0M791.5 274.8h0M786.9 272.8h0M801.5 275.8h0M802.5 275.8h0M810.5 275.8h0M792.5 275.8h0M785.5 274.8h0M803.5 274.8h0M801.5 274.8h0M797.0 303.6h0M771.0 303.6h0M811.0 303.6h0M783.0 303.6h0M772.0 303.6h0M787.0 303.6h0M786.0 303.6h0M765.0 303.6h0M799.0 304.6h0" stroke="#008bfb"/><path d="M781.2 42.8h0M755.3 46.8h0M710.9 44.8h0M767.9 43.8h0M750.0 44.8h0M779.2 42.8h0M747.9 45.8h0M745.1 50.8h0M755.3 43.8h0M781.2 44.8h0M766.0 45.8h0M782.1 46.8h0M750.0 46.8h0M756.5 41.8h0M733.7 44.8h0M750.0 45.8h0M722.3 44.8h0M745.5 49.8h0M745.5 50.8h0M755.3 48.8h0M745.1 49.8h0M773.6 44.8h0M747.9 43.8h0M730.8 44.8h0M736.5 46.8h0M750.0 49.8h0M787.8 44.8h0M767.9 45.8h0M753.6 43.8h0M753.6 44.8h0M750.0 48.8h0M787.8 45.8h0M787.8 43.8h0M767.9 42.8h0M750.8 44.8h0M745.1 43.8h0M782.1 42.8h0M713.7 45.8h0M781.2 43.8h0M753.6 41.8h0M784.9 43.8h0M781.2 47.8h0M779.2 46.8h0M766.0 42.8h0M782.1 45.8h0M794.5 74.5h0M799.7 72.5h0M810.0 73.5h0M784.2 77.5h0M797.1 75.5h0M781.6 71.5h0M784.2 74.5h0M786.8 70.5h0M799.7 75.5h0M810.0 75.5h0M791.8 75.5h0M791.8 72.5h0M789.4 71.5h0M792.0 69.5h0M802.3 74.5h0M794.5 75.5h0M784.2 75.5h0M797.1 71.5h0M794.5 70.5h0M792.0 78.5h0M773.9 75.5h0M792.0 65.5h0M779.0 74.5h0M802.3 72.5h0M810.0 73.5h0M791.8 68.5h0M792.0 74.5h0M810.0 76.5h0M812.6 75.5h0M794.5 69.5h0M791.8 69.5h0M815.2 74.5h0M810.0 70.5h0M781.6 76.5h0M791.8 65.5h0M794.5 79.5h0M791.8 70.5h0M804.9 71.5h0M791.8 76.5h0M788.0 75.5h0M784.2 73.5h0M802.3 70.5h0M802.3 73.5h0M776.5 73.5h0M792.0 72.5h0M797.1 76.5h0M791.8 66.5h0M791.8 77.5h0M773.9 73.5h0M802.3 75.5h0M809.2 102.3h0M795.1 100.3h0M786.1 103.3h0M795.1 101.3h0M793.8 103.3h0M813.1 102.3h0M788.6 101.3h0M788.6 107.3h0M800.2 101.3h0M796.4 103.3h0M788.6 98.3h0M788.6 101.3h0M787.4 101.3h0M805.4 103.3h0M798.9 102.3h0M800.2 103.3h0M788.6 99.3h0M788.6 105.3h0M814.4 103.3h0M797.6 102.3h0M782.2 101.3h0M782.2 103.3h0M788.6 107.3h0M788.6 104.3h0M788.6 106.3h0M788.6 100.3h0M810.5 102.3h0M800.2 102.3h0M797.6 104.3h0M823.4 102.3h0M789.9 104.3h0M789.9 105.3h0M813.1 101.3h0M813.1 103.3h0M793.8 101.3h0M801.5 103.3h0M791.2 102.3h0M784.8 102.3h0M801.5 101.3h0M788.6 97.3h0M779.6 103.3h0M786.1 104.3h0M775.8 102.3h0M791.2 100.3h0M809.2 103.3h0M814.0 131.0h0M809.0 131.0h0M798.0 130.0h0M796.0 131.0h0M805.0 129.0h0M815.0 131.0h0M800.0 133.0h0M818.0 131.0h0M805.0 134.0h0M800.0 131.0h0M816.0 131.0h0M802.0 130.0h0M808.0 132.0h0M807.0 130.0h0M806.0 129.0h0M798.0 132.0h0M797.0 137.0h0M795.0 132.0h0M806.0 132.0h0M812.0 130.0h0M800.0 129.0h0M803.0 134.0h0M801.0 128.0h0M814.0 130.0h0M812.0 131.0h0M798.0 133.0h0M796.0 129.0h0M803.0 133.0h0M816.0 132.0h0M811.0 130.0h0M797.0 136.0h0M797.0 133.0h0M804.0 130.0h0M809.0 133.0h0M797.0 128.0h0M810.0 130.0h0M797.0 134.0h0M797.0 133.0h0M809.0 132.0h0M789.0 159.8h0M790.0 161.8h0M798.0 158.8h0M777.0 159.8h0M808.0 160.8h0M790.4 160.8h0M808.3 162.8h0M797.0 158.8h0M803.0 160.8h0M801.0 159.8h0M807.0 160.8h0M808.3 158.8h0M794.0 159.8h0M798.0 160.8h0M806.0 160.8h0M791.0 160.8h0M805.0 159.8h0M801.0 160.8h0M808.3 161.8h0M797.0 159.8h0M789.0 158.8h0M790.0 160.8h0M802.0 159.8h0M800.0 160.8h0M790.4 158.8h0M803.5 189.6h0M798.5 189.6h0M797.5 187.6h0M810.5 188.6h0M797.5 190.6h0M798.5 186.6h0M798.5 188.6h0M797.5 189.6h0M796.5 188.6h0M801.5 189.6h0M815.5 188.6h0M795.5 187.6h0M797.5 191.6h0M805.5 189.6h0M804.5 190.6h0M805.5 188.6h0M809.5 189.6h0M823.5 188.6h0M823.5 185.6h0M828.5 189.6h0M796.5 187.6h0M808.5 188.6h0M804.5 188.6h0M813.5 188.6h0M795.5 189.6h0M827.5 189.6h0M799.5 187.6h0M803.5 188.6h0M797.5 185.6h0M815.5 189.6h0M802.5 188.6h0M800.5 187.6h0M799.5 188.6h0M799.5 189.6h0M822.5 190.6h0M816.5 189.6h0M826.5 186.6h0M803.8 187.6h0M797.5 190.6h0M829.4 213.3h0M822.0 218.3h0M825.0 212.3h0M825.0 214.3h0M829.4 222.3h0M829.4 214.3h0M824.0 217.3h0M826.0 216.3h0M828.0 215.3h0M829.4 223.3h0M831.0 216.3h0M824.0 216.3h0M823.0 221.3h0M831.0 214.3h0M829.4 217.3h0M829.4 221.3h0M831.0 220.3h0M831.0 215.3h0M829.4 220.3h0M821.0 216.3h0M825.0 221.3h0M824.0 220.3h0M824.0 212.3h0M826.0 212.3h0M832.0 218.3h0M833.0 217.3h0M829.4 212.3h0M824.0 223.3h0M828.0 221.3h0M828.0 219.3h0M823.0 222.3h0M823.0 217.3h0M821.0 221.3h0M825.0 219.3h0M823.0 218.3h0M828.0 214.3h0M824.0 221.3h0M829.4 218.3h0M831.0 215.3h0M825.3 244.1h0M820.5 243.1h0M821.5 243.1h0M820.5 251.1h0M823.0 243.1h0M828.8 248.1h0M821.5 240.1h0M824.1 246.1h0M825.3 245.1h0M823.0 244.1h0M821.5 239.1h0M823.0 248.1h0M825.3 249.1h0M825.3 250.1h0M821.5 248.1h0M821.5 241.1h0M825.3 243.1h0M820.0 246.1h0M825.3 248.1h0M821.5 249.1h0M821.5 247.1h0M820.0 243.1h0M830.0 245.1h0M823.0 245.1h0M822.0 272.8h0M818.5 274.8h0M823.5 272.8h0M824.5 274.8h0M827.0 271.8h0M822.5 276.8h0M818.5 275.8h0M822.5 272.8h0M822.5 279.8h0M820.5 274.8h0M821.5 272.8h0M824.5 277.8h0M828.5 274.8h0M818.5 272.8h0M822.0 276.8h0M827.0 276.8h0M821.5 276.8h0M825.5 272.8h0M825.5 275.8h0M825.5 274.8h0M827.0 277.8h0M824.5 279.8h0M819.5 274.8h0M822.0 279.8h0M824.5 273.8h0M820.5 275.8h0M828.5 275.8h0M820.5 272.8h0M827.0 279.8h0M822.5 274.8h0M823.5 278.8h0M823.5 270.8h0M827.0 275.8h0M831.5 273.8h0M818.5 278.8h0M824.5 275.8h0M828.2 308.6h0M820.0 304.6h0M821.0 302.6h0M825.0 301.6h0M822.0 305.6h0M828.2 300.6h0M822.0 303.6h0M825.0 305.6h0M828.2 305.6h0M825.0 302.6h0M824.0 305.6h0M828.2 297.6h0M828.2 302.6h0M824.0 302.6h0M828.2 301.6h0M822.0 308.6h0M822.0 306.6h0M823.0 298.6h0M825.0 304.6h0M819.0 305.6h0M822.0 298.6h0M824.0 307.6h0" stroke="#ff0051"/><path d="M981.5 47.8h0M975.8 47.8h0M978.6 47.8h0M987.2 44.8h0M987.2 43.8h0M972.9 46.8h0M981.5 43.8h0M984.3 44.8h0M990.0 44.8h0M980.3 45.8h0M972.9 44.8h0M980.3 48.8h0M978.6 44.8h0M981.5 42.8h0M978.6 48.8h0M981.5 44.8h0M980.3 40.8h0M981.5 42.8h0M978.6 41.8h0M978.6 41.8h0M984.3 44.8h0M978.6 44.8h0M975.8 42.8h0M975.8 43.8h0M984.3 47.8h0M981.5 46.8h0M980.3 39.8h0M980.3 44.8h0M980.3 49.8h0M984.3 43.8h0M881.3 102.3h0M884.4 99.3h0M884.4 105.3h0M887.7 102.3h0M884.4 96.3h0M880.0 102.3h0M890.3 103.3h0M884.4 98.3h0M833.7 103.3h0M853.0 138.0h0M853.0 132.0h0M851.0 133.0h0M856.0 131.0h0M853.0 127.0h0M849.0 130.0h0M853.0 131.0h0M853.0 139.0h0M847.5 129.0h0M855.0 131.0h0M855.0 132.0h0M857.0 131.0h0M849.0 133.0h0M848.0 131.0h0M853.0 126.0h0M833.3 157.8h0M831.0 155.8h0M835.0 158.8h0M833.3 160.8h0M826.0 157.8h0M833.3 166.8h0M830.0 159.8h0M827.0 158.8h0M836.0 159.8h0M831.0 164.8h0M828.0 161.8h0M833.3 163.8h0M829.0 158.8h0M825.0 158.8h0M825.0 161.8h0M830.0 156.8h0M835.0 159.8h0M831.0 158.8h0M833.3 162.8h0M833.3 155.8h0M831.5 159.8h0M828.0 158.8h0M826.5 189.6h0M828.5 192.6h0M819.5 189.6h0M818.5 188.6h0M822.5 186.6h0M824.0 299.6h0M831.0 303.6h0M823.0 301.6h0M833.0 304.6h0M822.0 306.6h0M820.0 300.6h0M824.0 306.6h0M834.0 303.6h0M826.0 305.6h0M824.0 301.6h0M833.0 302.6h0" stroke="#9233b9"/><path d="M827.0 159.8h0M831.0 160.8h0M826.0 159.8h0M833.5 186.6h0M832.4 187.6h0M826.0 184.6h0M832.4 182.6h0M826.0 193.6h0M833.5 190.6h0M832.4 193.6h0M827.5 190.6h0M821.5 189.6h0M832.4 183.6h0M822.5 191.6h0M832.4 189.6h0M832.4 191.6h0M832.4 185.6h0M827.5 187.6h0M832.4 188.6h0M829.5 190.6h0M833.5 189.6h0M832.4 181.6h0M826.0 189.6h0M826.0 192.6h0M829.5 185.6h0M832.0 304.6h0M835.0 303.6h0M832.0 303.6h0" stroke="#df0086"/><path d="M896.0 45.8h0M980.3 47.8h0M978.6 47.8h0M984.3 42.8h0M980.3 43.8h0M978.6 43.8h0M978.6 45.8h0M978.6 40.8h0M980.3 41.8h0M981.5 45.8h0M981.5 43.8h0M978.6 42.8h0M984.3 46.8h0M893.2 45.8h0M981.5 46.8h0M981.5 48.8h0M961.5 44.8h0M981.5 44.8h0M987.2 45.8h0M975.8 45.8h0M978.6 48.8h0M984.3 41.8h0M978.6 43.8h0M827.7 45.8h0M981.5 45.8h0M893.2 44.8h0M987.2 46.8h0M884.4 101.3h0M884.4 108.3h0M884.4 106.3h0M878.7 103.3h0M891.6 102.3h0M890.3 102.3h0M884.4 107.3h0M886.5 101.3h0M882.6 100.3h0M884.4 100.3h0M884.4 109.3h0M884.4 104.3h0M883.0 104.3h0M853.0 125.0h0M853.0 129.0h0M853.0 124.0h0M853.0 137.0h0M847.5 130.0h0M853.0 134.0h0M847.5 133.0h0M856.0 132.0h0M850.0 130.0h0M853.0 136.0h0M847.5 134.0h0M853.0 128.0h0M833.3 152.8h0M830.0 158.8h0M825.0 159.8h0M833.3 154.8h0M829.0 157.8h0M831.5 157.8h0M833.3 161.8h0M830.0 164.8h0M831.5 164.8h0M825.0 160.8h0M831.0 159.8h0M831.5 160.8h0M833.3 159.8h0M831.0 161.8h0M830.0 155.8h0M830.0 160.8h0M826.5 188.6h0M827.5 186.6h0M826.5 190.6h0M826.5 191.6h0M829.5 184.6h0M821.5 187.6h0M826.0 190.6h0M822.0 301.6h0M820.0 301.6h0M820.0 306.6h0M821.0 304.6h0M821.0 305.6h0M830.0 301.6h0M823.0 299.6h0M836.0 303.6h0M822.0 302.6h0M834.0 304.6h0M837.0 303.6h0M824.0 304.6h0" stroke="#9233b9"/><path d="M745.1 41.8h0M753.6 46.8h0M745.5 41.8h0M753.6 47.8h0M755.3 47.8h0M781.2 45.8h0M739.4 45.8h0M776.4 43.8h0M750.8 45.8h0M716.6 44.8h0M753.6 45.8h0M736.5 44.8h0M770.7 44.8h0M753.6 48.8h0M762.2 44.8h0M765.0 44.8h0M755.3 45.8h0M759.3 43.8h0M745.5 48.8h0M745.5 44.8h0M745.5 38.8h0M755.3 44.8h0M736.5 43.8h0M766.0 44.8h0M750.0 47.8h0M747.9 41.8h0M747.9 47.8h0M725.1 45.8h0M750.0 43.8h0M750.0 40.8h0M736.5 45.8h0M756.5 45.8h0M745.1 45.8h0M745.5 39.8h0M725.1 44.8h0M750.8 42.8h0M756.5 42.8h0M753.6 49.8h0M733.7 43.8h0M745.1 42.8h0M784.9 45.8h0M747.9 44.8h0M765.0 43.8h0M755.3 42.8h0M730.8 45.8h0M750.8 43.8h0M750.0 42.8h0M766.0 46.8h0M745.5 37.8h0M810.0 76.5h0M804.9 72.5h0M788.0 71.5h0M804.9 73.5h0M784.2 72.5h0M794.5 78.5h0M807.4 74.5h0M786.8 71.5h0M788.0 73.5h0M802.3 71.5h0M792.0 81.5h0M786.8 73.5h0M799.7 74.5h0M771.3 74.5h0M792.0 67.5h0M789.4 73.5h0M791.8 81.5h0M789.4 72.5h0M781.6 73.5h0M794.5 68.5h0M794.5 67.5h0M788.0 78.5h0M792.0 66.5h0M810.0 71.5h0M786.8 72.5h0M791.8 79.5h0M788.0 68.5h0M797.1 73.5h0M788.0 69.5h0M807.4 73.5h0M797.1 74.5h0M779.0 72.5h0M781.6 72.5h0M812.6 72.5h0M788.0 79.5h0M791.8 71.5h0M792.0 77.5h0M791.8 73.5h0M810.0 74.5h0M799.7 73.5h0M788.0 70.5h0M789.4 75.5h0M810.0 72.5h0M776.5 71.5h0M789.4 76.5h0M791.8 67.5h0M810.0 74.5h0M781.6 74.5h0M773.9 72.5h0M791.8 80.5h0M769.3 102.3h0M810.5 104.3h0M814.4 101.3h0M811.8 102.3h0M789.9 100.3h0M788.6 102.3h0M792.5 101.3h0M801.5 104.3h0M782.2 102.3h0M810.5 103.3h0M791.2 101.3h0M791.2 103.3h0M805.4 102.3h0M796.4 101.3h0M787.4 103.3h0M789.9 103.3h0M788.6 103.3h0M804.1 102.3h0M792.5 100.3h0M788.6 97.3h0M787.4 102.3h0M788.6 100.3h0M786.1 102.3h0M789.9 101.3h0M788.6 105.3h0M762.9 102.3h0M804.1 104.3h0M779.6 102.3h0M797.6 101.3h0M807.9 102.3h0M778.3 102.3h0M792.5 104.3h0M800.2 104.3h0M788.6 104.3h0M793.8 102.3h0M788.6 98.3h0M795.1 102.3h0M780.9 102.3h0M817.0 131.0h0M822.0 132.0h0M806.0 134.0h0M804.0 132.0h0M797.0 127.0h0M800.0 130.0h0M797.0 128.0h0M801.0 133.0h0M804.0 129.0h0M797.0 134.0h0M797.0 131.0h0M803.0 132.0h0M796.0 132.0h0M801.0 131.0h0M822.0 131.0h0M813.0 133.0h0M797.0 136.0h0M814.0 132.0h0M797.0 129.0h0M795.0 130.0h0M806.0 133.0h0M805.0 130.0h0M805.0 131.0h0M805.0 133.0h0M801.0 132.0h0M796.0 134.0h0M802.0 132.0h0M798.0 127.0h0M808.0 131.0h0M804.0 131.0h0M807.0 131.0h0M819.0 131.0h0M819.0 132.0h0M799.0 132.0h0M797.0 132.0h0M798.0 135.0h0M808.0 130.0h0M797.0 127.0h0M799.0 131.0h0M805.0 132.0h0M797.0 135.0h0M800.0 132.0h0M789.0 160.8h0M792.0 159.8h0M793.0 159.8h0M790.0 158.8h0M807.0 159.8h0M790.4 162.8h0M804.0 159.8h0M794.0 160.8h0M813.0 159.8h0M808.3 157.8h0M799.0 159.8h0M790.0 159.8h0M808.3 159.8h0M808.0 159.8h0M803.0 159.8h0M796.0 159.8h0M804.0 160.8h0M798.5 187.6h0M814.5 189.6h0M803.8 188.6h0M795.5 190.6h0M794.5 188.6h0M805.5 187.6h0M803.8 191.6h0M798.5 191.6h0M807.5 188.6h0M823.5 187.6h0M826.5 184.6h0M806.5 188.6h0M811.5 189.6h0M802.5 190.6h0M786.4 188.6h0M829.5 186.6h0M802.5 187.6h0M808.5 189.6h0M801.5 190.6h0M811.5 188.6h0M791.7 188.6h0M799.5 186.6h0M801.5 186.6h0M822.5 189.6h0M795.5 191.6h0M802.5 189.6h0M796.5 189.6h0M804.5 187.6h0M824.5 187.6h0M797.5 187.6h0M795.5 186.6h0M814.5 188.6h0M803.8 185.6h0M816.5 187.6h0M825.0 211.3h0M831.0 218.3h0M824.0 218.3h0M826.0 222.3h0M832.0 217.3h0M832.0 219.3h0M828.0 216.3h0M823.0 212.3h0M828.0 220.3h0M827.0 218.3h0M824.0 213.3h0M831.0 220.3h0M824.0 215.3h0M826.0 219.3h0M821.0 220.3h0M825.0 218.3h0M831.0 214.3h0M825.0 222.3h0M829.4 219.3h0M826.0 213.3h0M825.0 223.3h0M826.0 217.3h0M822.0 216.3h0M826.0 218.3h0M825.0 220.3h0M824.0 216.3h0M831.0 216.3h0M824.0 211.3h0M829.4 224.3h0M828.0 217.3h0M833.0 218.3h0M824.0 219.3h0M821.0 219.3h0M825.0 216.3h0M824.0 222.3h0M823.0 211.3h0M821.0 217.3h0M831.0 219.3h0M829.4 211.3h0M827.0 215.3h0M826.0 220.3h0M832.0 216.3h0M827.6 245.1h0M821.5 251.1h0M820.0 247.1h0M820.5 247.1h0M821.5 244.1h0M828.8 242.1h0M828.8 250.1h0M825.3 246.1h0M826.5 244.1h0M824.1 249.1h0M820.5 240.1h0M828.8 244.1h0M823.0 247.1h0M824.1 248.1h0M823.0 242.1h0M827.6 248.1h0M820.5 244.1h0M820.5 249.1h0M820.0 249.1h0M821.5 252.1h0M823.0 250.1h0M820.5 253.1h0M820.5 252.1h0M821.5 245.1h0M820.5 242.1h0M820.0 245.1h0M820.0 244.1h0M821.5 238.1h0M830.0 244.1h0M820.5 248.1h0M821.5 253.1h0M826.5 246.1h0M828.8 249.1h0M825.5 276.8h0M823.5 279.8h0M819.5 278.8h0M834.5 274.8h0M818.5 271.8h0M820.5 277.8h0M822.0 270.8h0M822.0 275.8h0M819.5 276.8h0M818.5 277.8h0M829.5 273.8h0M831.5 275.8h0M822.0 274.8h0M819.5 273.8h0M822.0 278.8h0M823.5 275.8h0M822.0 273.8h0M820.5 273.8h0M819.5 275.8h0M829.5 274.8h0M821.5 279.8h0M829.5 275.8h0M827.0 274.8h0M827.0 267.8h0M821.5 277.8h0M823.5 276.8h0M825.5 273.8h0M827.0 273.8h0M821.5 270.8h0M831.5 274.8h0M833.5 275.8h0M822.5 275.8h0M821.5 278.8h0M818.5 276.8h0M830.5 274.8h0M824.5 278.8h0M833.5 274.8h0M827.0 270.8h0M823.5 273.8h0M822.5 269.8h0M821.5 271.8h0M827.0 281.8h0M822.0 304.6h0M823.0 302.6h0M820.0 303.6h0M823.0 306.6h0M828.2 296.6h0M822.0 300.6h0M826.0 304.6h0M828.2 304.6h0M822.0 305.6h0M822.0 300.6h0M822.0 303.6h0M828.2 299.6h0M819.0 302.6h0M820.0 305.6h0M828.2 309.6h0M828.2 303.6h0M822.0 307.6h0M828.2 310.6h0M823.0 304.6h0M822.0 302.6h0M820.0 302.6h0M828.2 298.6h0" stroke="#ff0051"/><path d="M916.0 43.8h0M958.7 44.8h0M933.0 44.8h0M916.0 45.8h0M827.7 44.8h0M913.1 44.8h0M933.0 43.8h0M848.8 44.8h0M827.7 43.8h0M961.5 45.8h0M940.0 73.5h0M900.4 74.5h0M846.2 73.5h0M1016.5 73.5h0M1011.3 73.5h0M892.6 73.5h0M918.4 74.5h0M841.0 73.5h0M861.6 73.5h0M918.4 73.5h0M883.0 73.5h0M850.4 103.3h0M878.7 105.3h0M871.0 103.3h0M873.6 103.3h0M873.6 102.3h0M863.3 102.3h0M862.0 103.3h0M869.7 102.3h0M850.4 102.3h0M854.3 102.3h0M882.6 102.3h0M876.2 102.3h0M878.7 104.3h0M862.0 102.3h0M835.0 131.0h0M840.0 131.0h0M848.0 132.0h0M837.0 131.0h0M847.0 132.0h0M847.0 131.0h0M837.0 132.0h0M847.5 132.0h0M834.0 132.0h0M851.0 131.0h0M828.0 131.0h0M841.0 131.0h0M839.0 132.0h0M822.0 159.8h0M830.0 163.8h0M817.0 160.8h0M824.0 159.8h0M819.0 160.8h0M829.0 159.8h0M823.0 160.8h0M824.0 161.8h0M822.0 160.8h0M821.0 160.8h0M821.0 158.8h0M831.5 163.8h0M818.0 160.8h0M829.0 156.8h0M824.0 160.8h0M828.0 157.8h0M823.0 159.8h0M820.5 189.6h0M828.5 186.6h0M828.5 187.6h0M825.5 189.6h0M822.5 185.6h0M790.0 217.3h0M812.0 217.3h0M811.0 217.3h0M788.0 218.3h0M779.4 217.3h0M801.0 217.3h0M770.0 217.3h0M796.0 217.3h0M784.1 246.1h0M757.9 246.1h0M804.1 246.1h0M744.3 246.1h0M712.2 246.1h0M718.6 246.1h0M787.6 246.1h0M799.4 247.1h0M808.5 274.8h0M802.5 274.8h0M797.5 275.8h0M787.5 272.8h0M786.9 275.8h0M815.5 274.8h0M786.9 278.8h0M813.5 275.8h0M788.5 274.8h0M801.5 273.8h0M815.5 275.8h0M787.5 275.8h0M787.5 274.8h0M794.5 274.8h0M806.5 274.8h0M794.5 275.8h0M792.5 273.8h0M808.5 275.8h0M798.5 275.8h0M786.9 277.8h0M779.0 303.6h0M774.0 303.6h0M801.0 304.6h0M809.0 303.6h0M799.0 303.6h0M773.0 303.6h0M816.0 303.6h0" stroke="#008bfb"/><path d="M831.0 163.8h0M829.0 161.8h0M831.0 162.8h0M826.0 158.8h0M830.0 161.8h0M831.0 157.8h0M831.5 158.8h0M824.5 190.6h0M828.5 191.6h0M834.5 188.6h0M833.5 188.6h0M832.4 184.6h0M826.5 185.6h0M833.5 188.6h0M829.5 191.6h0M832.4 186.6h0M825.5 191.6h0M823.5 189.6h0M827.5 188.6h0M829.5 188.6h0M825.5 184.6h0M832.4 194.6h0M819.5 187.6h0M834.5 187.6h0M826.0 188.6h0M832.4 196.6h0M833.5 187.6h0M833.5 189.6h0M823.5 191.6h0M825.5 192.6h0M822.5 187.6h0M830.0 305.6h0M831.0 304.6h0M830.0 302.6h0" stroke="#df0086"/><path d="M766.0 47.8h0M756.5 46.8h0M779.2 45.8h0M747.9 42.8h0M719.4 44.8h0M779.2 44.8h0M776.4 45.8h0M745.1 44.8h0M782.1 44.8h0M750.0 41.8h0M755.3 40.8h0M755.3 41.8h0M745.5 42.8h0M781.2 46.8h0M790.6 44.8h0M756.5 44.8h0M765.0 45.8h0M782.1 43.8h0M753.6 42.8h0M776.4 44.8h0M770.7 45.8h0M802.0 44.8h0M773.6 45.8h0M767.9 46.8h0M822.0 44.8h0M755.3 49.8h0M745.5 43.8h0M782.1 47.8h0M745.1 46.8h0M733.7 45.8h0M784.9 44.8h0M705.2 44.8h0M756.5 43.8h0M747.9 46.8h0M750.8 46.8h0M767.9 44.8h0M713.7 44.8h0M779.2 43.8h0M745.5 51.8h0M745.1 47.8h0M739.4 44.8h0M816.3 44.8h0M745.1 40.8h0M762.2 45.8h0M745.5 46.8h0M799.2 44.8h0M745.1 48.8h0M766.0 43.8h0M759.3 44.8h0M753.6 40.8h0M745.5 40.8h0M745.5 45.8h0M759.3 45.8h0M745.1 39.8h0M745.5 47.8h0M756.5 47.8h0M812.6 74.5h0M791.8 74.5h0M810.0 71.5h0M788.0 74.5h0M792.0 73.5h0M776.5 75.5h0M791.8 78.5h0M789.4 74.5h0M794.5 76.5h0M792.0 71.5h0M786.8 76.5h0M788.0 76.5h0M799.7 71.5h0M812.6 73.5h0M804.9 74.5h0M792.0 76.5h0M802.3 77.5h0M804.9 75.5h0M810.0 72.5h0M781.6 75.5h0M786.8 74.5h0M794.5 73.5h0M776.5 74.5h0M807.4 72.5h0M784.2 71.5h0M779.0 73.5h0M792.0 75.5h0M758.4 73.5h0M794.5 72.5h0M797.1 70.5h0M776.5 72.5h0M810.0 75.5h0M792.0 82.5h0M807.4 71.5h0M792.0 70.5h0M788.0 77.5h0M771.3 73.5h0M792.0 80.5h0M807.4 75.5h0M802.3 76.5h0M810.0 70.5h0M792.0 79.5h0M794.5 71.5h0M786.8 75.5h0M799.7 76.5h0M788.0 72.5h0M784.2 70.5h0M815.2 73.5h0M784.2 76.5h0M797.1 77.5h0M794.5 77.5h0M792.0 68.5h0M773.9 74.5h0M797.1 72.5h0M804.1 101.3h0M805.4 101.3h0M783.5 103.3h0M801.5 102.3h0M788.6 103.3h0M797.6 103.3h0M804.1 103.3h0M788.6 102.3h0M787.4 104.3h0M791.2 105.3h0M796.4 102.3h0M783.5 102.3h0M802.8 103.3h0M792.5 102.3h0M792.5 105.3h0M789.9 102.3h0M770.6 102.3h0M806.7 102.3h0M786.1 101.3h0M798.9 103.3h0M811.8 103.3h0M778.3 103.3h0M814.4 102.3h0M810.5 101.3h0M796.4 104.3h0M795.1 104.3h0M777.1 102.3h0M791.2 104.3h0M802.8 102.3h0M788.6 106.3h0M820.8 102.3h0M792.5 99.3h0M809.2 101.3h0M795.1 103.3h0M770.6 103.3h0M811.8 101.3h0M792.5 103.3h0M798.9 101.3h0M788.6 99.3h0M800.0 134.0h0M797.0 129.0h0M798.0 129.0h0M804.0 134.0h0M813.0 129.0h0M803.0 130.0h0M807.0 132.0h0M806.0 131.0h0M809.0 129.0h0M801.0 129.0h0M797.0 132.0h0M801.0 134.0h0M795.0 131.0h0M811.0 132.0h0M799.0 130.0h0M798.0 136.0h0M804.0 133.0h0M809.0 130.0h0M798.0 128.0h0M806.0 130.0h0M815.0 132.0h0M797.0 130.0h0M810.0 131.0h0M801.0 130.0h0M798.0 131.0h0M797.0 131.0h0M796.0 133.0h0M813.0 132.0h0M802.0 131.0h0M799.0 133.0h0M795.0 133.0h0M797.0 126.0h0M811.0 131.0h0M813.0 130.0h0M814.0 133.0h0M803.0 131.0h0M797.0 135.0h0M813.0 131.0h0M796.0 130.0h0M798.0 134.0h0M812.0 132.0h0M803.0 129.0h0M810.0 132.0h0M797.0 130.0h0M790.4 159.8h0M788.0 159.8h0M786.0 159.8h0M809.0 159.8h0M795.0 159.8h0M806.0 159.8h0M790.4 157.8h0M809.0 160.8h0M784.0 159.8h0M798.0 159.8h0M808.3 160.8h0M790.4 160.8h0M792.0 160.8h0M800.0 159.8h0M790.4 161.8h0M813.0 160.8h0M799.0 160.8h0M790.4 159.8h0M812.0 159.8h0M790.4 162.8h0M797.0 160.8h0M790.4 157.8h0M791.0 158.8h0M791.0 159.8h0M790.4 161.8h0M790.4 158.8h0M802.5 186.6h0M797.5 189.6h0M810.5 187.6h0M801.5 187.6h0M809.5 188.6h0M803.8 189.6h0M826.5 192.6h0M816.5 188.6h0M776.5 188.6h0M803.8 186.6h0M798.5 190.6h0M801.5 188.6h0M800.5 188.6h0M796.5 186.6h0M797.5 188.6h0M803.8 190.6h0M824.5 189.6h0M797.5 186.6h0M798.5 185.6h0M826.0 187.6h0M804.5 186.6h0M800.5 189.6h0M799.5 190.6h0M820.5 188.6h0M804.5 189.6h0M796.5 190.6h0M812.5 188.6h0M806.5 189.6h0M803.5 187.6h0M810.5 189.6h0M807.5 189.6h0M817.5 188.6h0M803.5 190.6h0M813.5 189.6h0M809.5 187.6h0M797.5 188.6h0M795.5 188.6h0M821.0 215.3h0M822.0 219.3h0M824.0 220.3h0M827.0 217.3h0M823.0 213.3h0M823.0 220.3h0M822.0 215.3h0M824.0 214.3h0M824.0 217.3h0M827.0 219.3h0M824.0 221.3h0M827.0 216.3h0M823.0 219.3h0M824.0 219.3h0M831.0 219.3h0M826.0 215.3h0M831.0 217.3h0M826.0 221.3h0M829.4 209.3h0M829.4 216.3h0M828.0 218.3h0M825.0 217.3h0M835.8 217.3h0M826.0 214.3h0M831.0 221.3h0M825.0 213.3h0M823.0 223.3h0M831.0 218.3h0M824.0 214.3h0M823.0 215.3h0M829.4 215.3h0M831.0 217.3h0M821.0 214.3h0M824.0 213.3h0M829.4 210.3h0M822.0 217.3h0M829.4 225.3h0M824.0 218.3h0M825.0 215.3h0M823.0 216.3h0M831.0 221.3h0M823.0 214.3h0M824.0 215.3h0M821.0 218.3h0M823.0 251.1h0M826.5 248.1h0M827.6 249.1h0M830.0 246.1h0M828.8 246.1h0M821.5 242.1h0M828.8 245.1h0M824.1 244.1h0M820.0 250.1h0M828.8 243.1h0M827.6 244.1h0M824.1 245.1h0M820.0 248.1h0M825.3 247.1h0M820.5 246.1h0M821.5 246.1h0M830.0 248.1h0M820.5 250.1h0M827.6 243.1h0M823.0 246.1h0M826.5 247.1h0M826.5 245.1h0M827.6 246.1h0M828.8 247.1h0M820.5 241.1h0M820.5 245.1h0M827.6 247.1h0M823.0 249.1h0M821.5 250.1h0M824.1 247.1h0M821.5 254.1h0M830.0 247.1h0M822.5 271.8h0M823.5 271.8h0M824.5 276.8h0M822.5 273.8h0M824.5 271.8h0M823.5 277.8h0M821.5 273.8h0M824.5 272.8h0M824.5 270.8h0M820.5 271.8h0M819.5 271.8h0M822.5 270.8h0M823.5 274.8h0M832.5 275.8h0M827.0 278.8h0M819.5 272.8h0M822.0 271.8h0M828.5 273.8h0M827.0 280.8h0M837.5 274.8h0M827.0 268.8h0M836.5 274.8h0M827.0 269.8h0M832.5 274.8h0M819.5 277.8h0M821.5 274.8h0M822.5 278.8h0M820.5 276.8h0M827.0 272.8h0M822.0 277.8h0M822.5 277.8h0M818.5 273.8h0M821.5 275.8h0M819.0 303.6h0M821.0 301.6h0M821.0 303.6h0M828.2 307.6h0M826.0 303.6h0M826.0 301.6h0M824.0 300.6h0M823.0 308.6h0M819.0 304.6h0M822.0 301.6h0M823.0 300.6h0M828.2 306.6h0M822.0 307.6h0M824.0 303.6h0M823.0 303.6h0M828.2 311.6h0M824.0 308.6h0" stroke="#ff0051"/><path d="M984.3 46.8h0M978.6 42.8h0M975.8 41.8h0M967.4 44.8h0M980.3 46.8h0M984.3 43.8h0M975.8 46.8h0M978.6 46.8h0M984.3 42.8h0M942.5 44.8h0M984.3 45.8h0M978.6 45.8h0M981.5 41.8h0M972.9 45.8h0M955.8 44.8h0M981.5 47.8h0M981.5 40.8h0M975.8 44.8h0M972.9 43.8h0M978.6 46.8h0M980.3 42.8h0M984.3 45.8h0M884.4 95.3h0M886.5 103.3h0M878.7 101.3h0M884.4 102.3h0M889.0 102.3h0M886.5 102.3h0M889.0 103.3h0M886.5 104.3h0M887.7 101.3h0M880.0 103.3h0M884.4 103.3h0M882.6 103.3h0M880.0 101.3h0M884.4 97.3h0M887.7 103.3h0M853.0 135.0h0M853.0 133.0h0M847.5 131.0h0M849.0 131.0h0M850.0 131.0h0M853.0 130.0h0M851.0 132.0h0M855.0 130.0h0M826.0 160.8h0M827.0 161.8h0M831.5 155.8h0M828.0 163.8h0M833.3 158.8h0M827.0 162.8h0M833.3 151.8h0M833.3 167.8h0M829.0 162.8h0M833.3 156.8h0M833.3 164.8h0M830.0 157.8h0M831.5 161.8h0M828.0 156.8h0M835.0 160.8h0M831.0 156.8h0M831.5 162.8h0M833.3 165.8h0M833.3 153.8h0M827.0 157.8h0M829.0 160.8h0M831.5 156.8h0M823.5 190.6h0M826.0 191.6h0M825.5 186.6h0M818.5 189.6h0M819.5 188.6h0M826.0 185.6h0M829.5 189.6h0M830.0 303.6h0M826.0 302.6h0M825.0 303.6h0M826.0 306.6h0M836.0 304.6h0M822.0 299.6h0M835.0 302.6h0M835.0 304.6h0M823.0 305.6h0M822.0 304.6h0M823.0 307.6h0M830.0 304.6h0" stroke="#9233b9"/><path d="M896.0 44.8h0M953.0 44.8h0M930.2 44.8h0M958.7 43.8h0M930.2 45.8h0M903.9 44.8h0M866.1 44.8h0M881.8 45.8h0M949.7 73.5h0M972.6 73.5h0M1008.8 73.5h0M874.5 73.5h0M874.5 74.5h0M900.4 73.5h0M878.7 102.3h0M871.0 102.3h0M883.0 102.3h0M876.2 103.3h0M881.3 103.3h0M883.0 103.3h0M835.0 102.3h0M874.9 103.3h0M865.9 102.3h0M874.9 102.3h0M878.7 100.3h0M883.0 105.3h0M845.0 132.0h0M845.0 131.0h0M827.0 131.0h0M851.0 130.0h0M846.0 132.0h0M851.0 129.0h0M846.0 131.0h0M828.0 132.0h0M847.0 130.0h0M842.0 132.0h0M843.0 132.0h0M845.0 130.0h0M844.0 132.0h0M844.0 130.0h0M851.0 134.0h0M820.0 158.8h0M819.0 159.8h0M816.0 159.8h0M828.0 155.8h0M821.0 159.8h0M825.5 187.6h0M826.5 183.6h0M828.5 184.6h0M824.5 188.6h0M828.5 188.6h0M825.5 185.6h0M819.5 190.6h0M825.5 190.6h0M820.5 190.6h0M805.0 217.3h0M805.0 218.3h0M810.0 217.3h0M793.0 217.3h0M786.0 217.3h0M798.0 218.3h0M779.3 246.1h0M795.8 246.1h0M793.5 246.1h0M795.8 245.1h0M802.9 247.1h0M802.9 246.1h0M784.1 247.1h0M798.2 247.1h0M782.5 274.8h0M796.5 275.8h0M788.5 275.8h0M814.5 274.8h0M777.5 274.8h0M793.5 274.8h0M787.5 273.8h0M809.5 274.8h0M811.5 274.8h0M786.9 276.8h0M798.5 274.8h0M804.5 275.8h0M794.5 273.8h0M804.5 274.8h0M790.5 274.8h0M807.5 273.8h0M796.5 274.8h0M786.5 274.8h0M813.5 273.8h0M813.5 274.8h0M795.5 274.8h0M789.5 274.8h0M807.5 275.8h0M810.5 274.8h0M807.5 274.8h0M784.5 274.8h0M786.9 273.8h0M782.5 275.8h0M814.5 275.8h0M797.5 274.8h0M809.0 304.6h0M776.0 303.6h0M780.0 303.6h0M800.0 304.6h0M801.0 303.6h0M816.0 304.6h0M785.0 303.6h0M782.0 303.6h0M806.0 303.6h0M800.0 303.6h0M775.0 303.6h0M778.0 303.6h0" stroke="#008bfb"/><path d="M828.0 162.8h0M828.0 160.8h0M826.0 161.8h0M830.0 162.8h0M821.5 188.6h0M834.5 189.6h0M825.5 188.6h0M826.5 193.6h0M832.4 195.6h0M826.5 187.6h0M833.5 191.6h0M820.5 187.6h0M829.5 187.6h0M829.5 192.6h0M826.0 186.6h0M833.5 187.6h0M832.4 190.6h0M826.0 183.6h0M828.5 190.6h0M832.4 192.6h0M833.5 190.6h0M832.0 302.6h0M833.0 303.6h0M832.0 305.6h0" stroke="#df0086"/></g></g><line x1="690.8" y1="332.7" x2="1031.0" y2="332.7" stroke="#7a7a7a" stroke-width="1.3"/><line x1="701.5" y1="332.7" x2="701.5" y2="336.3" stroke="#3a3a3a" stroke-width="1"/><text x="701.5" y="346.8" text-anchor="middle" font-size="10.6" fill="#404040" textLength="24.6" lengthAdjust="spacingAndGlyphs">−0.6</text><line x1="741.0" y1="332.7" x2="741.0" y2="336.3" stroke="#3a3a3a" stroke-width="1"/><text x="741.0" y="346.8" text-anchor="middle" font-size="10.6" fill="#404040" textLength="24.6" lengthAdjust="spacingAndGlyphs">−0.4</text><line x1="780.4" y1="332.7" x2="780.4" y2="336.3" stroke="#3a3a3a" stroke-width="1"/><text x="780.4" y="346.8" text-anchor="middle" font-size="10.6" fill="#404040" textLength="24.6" lengthAdjust="spacingAndGlyphs">−0.2</text><line x1="819.9" y1="332.7" x2="819.9" y2="336.3" stroke="#3a3a3a" stroke-width="1"/><text x="819.9" y="346.8" text-anchor="middle" font-size="10.6" fill="#404040" textLength="16.1" lengthAdjust="spacingAndGlyphs">0.0</text><line x1="859.4" y1="332.7" x2="859.4" y2="336.3" stroke="#3a3a3a" stroke-width="1"/><text x="859.4" y="346.8" text-anchor="middle" font-size="10.6" fill="#404040" textLength="16.1" lengthAdjust="spacingAndGlyphs">0.2</text><line x1="898.8" y1="332.7" x2="898.8" y2="336.3" stroke="#3a3a3a" stroke-width="1"/><text x="898.8" y="346.8" text-anchor="middle" font-size="10.6" fill="#404040" textLength="16.1" lengthAdjust="spacingAndGlyphs">0.4</text><line x1="938.3" y1="332.7" x2="938.3" y2="336.3" stroke="#3a3a3a" stroke-width="1"/><text x="938.3" y="346.8" text-anchor="middle" font-size="10.6" fill="#404040" textLength="16.1" lengthAdjust="spacingAndGlyphs">0.6</text><line x1="977.7" y1="332.7" x2="977.7" y2="336.3" stroke="#3a3a3a" stroke-width="1"/><text x="977.7" y="346.8" text-anchor="middle" font-size="10.6" fill="#404040" textLength="16.1" lengthAdjust="spacingAndGlyphs">0.8</text><line x1="1017.2" y1="332.7" x2="1017.2" y2="336.3" stroke="#3a3a3a" stroke-width="1"/><text x="1017.2" y="346.8" text-anchor="middle" font-size="10.6" fill="#404040" textLength="16.1" lengthAdjust="spacingAndGlyphs">1.0</text><text x="860.0" y="362.0" text-anchor="middle" font-size="11.5" fill="#222" textLength="229" lengthAdjust="spacingAndGlyphs">SHAP value (impact on model output)</text><text x="668.3" y="49.10" text-anchor="end" font-size="12.3" fill="#404040" textLength="61.4" lengthAdjust="spacingAndGlyphs">X3538947</text><text x="668.3" y="77.86" text-anchor="end" font-size="12.3" fill="#404040" textLength="61.4" lengthAdjust="spacingAndGlyphs">X4040608</text><text x="668.3" y="106.62" text-anchor="end" font-size="12.3" fill="#404040" textLength="72.8" lengthAdjust="spacingAndGlyphs">X3538947.1</text><text x="668.3" y="135.38" text-anchor="end" font-size="12.3" fill="#404040" textLength="72.8" lengthAdjust="spacingAndGlyphs">X3538947.2</text><text x="668.3" y="164.14" text-anchor="end" font-size="12.3" fill="#404040" textLength="53.8" lengthAdjust="spacingAndGlyphs">X348243</text><text x="668.3" y="192.90" text-anchor="end" font-size="12.3" fill="#404040" textLength="61.4" lengthAdjust="spacingAndGlyphs">X4441501</text><text x="668.3" y="221.66" text-anchor="end" font-size="12.3" fill="#404040" textLength="53.8" lengthAdjust="spacingAndGlyphs">X267787</text><text x="668.3" y="250.42" text-anchor="end" font-size="12.3" fill="#404040" textLength="61.4" lengthAdjust="spacingAndGlyphs">X2077992</text><text x="668.3" y="279.18" text-anchor="end" font-size="12.3" fill="#404040" textLength="61.4" lengthAdjust="spacingAndGlyphs">X3805982</text><text x="668.3" y="307.94" text-anchor="end" font-size="12.3" fill="#404040" textLength="61.4" lengthAdjust="spacingAndGlyphs">X2177791</text><rect x="1051.9" y="16.0" width="4.4" height="315.5" fill="url(#cb)"/><text x="1059.7" y="19.8" font-size="10.6" fill="#404040" textLength="23.3" lengthAdjust="spacingAndGlyphs">High</text><text x="1059.7" y="336.2" font-size="10.6" fill="#404040" textLength="20.0" lengthAdjust="spacingAndGlyphs">Low</text><text transform="translate(1092.7,174.8) rotate(-90)" text-anchor="middle" font-size="11.5" fill="#404040" textLength="75.7" lengthAdjust="spacingAndGlyphs">Feature value</text><text x="844.4" y="397.6" text-anchor="middle" font-family='"Liberation Serif", serif' font-size="21" fill="#1e1e1e" stroke="#1e1e1e" stroke-width="0.12" textLength="199.2" lengthAdjust="spacingAndGlyphs">(B) Cefotaxime (CTX)</text></g>
<g font-family='"Liberation Sans", sans-serif'><line x1="134.3" y1="480.75" x2="474.5" y2="480.75" stroke="#f3f3f3" stroke-width="1"/><line x1="134.3" y1="509.51" x2="474.5" y2="509.51" stroke="#f3f3f3" stroke-width="1"/><line x1="134.3" y1="538.27" x2="474.5" y2="538.27" stroke="#f3f3f3" stroke-width="1"/><line x1="134.3" y1="567.03" x2="474.5" y2="567.03" stroke="#f3f3f3" stroke-width="1"/><line x1="134.3" y1="595.79" x2="474.5" y2="595.79" stroke="#f3f3f3" stroke-width="1"/><line x1="134.3" y1="624.55" x2="474.5" y2="624.55" stroke="#f3f3f3" stroke-width="1"/><line x1="134.3" y1="653.31" x2="474.5" y2="653.31" stroke="#f3f3f3" stroke-width="1"/><line x1="134.3" y1="682.07" x2="474.5" y2="682.07" stroke="#f3f3f3" stroke-width="1"/><line x1="134.3" y1="710.83" x2="474.5" y2="710.83" stroke="#f3f3f3" stroke-width="1"/><line x1="134.3" y1="739.59" x2="474.5" y2="739.59" stroke="#f3f3f3" stroke-width="1"/><line x1="288.6" y1="452.0" x2="288.6" y2="768.7" stroke="#a5a5a5" stroke-width="1.3"/><g transform="translate(0,436.0)"><g fill="none" stroke-width="4" stroke-linecap="round"><path d="M151.7 47.8h0M164.1 44.8h0M170.3 45.8h0M213.8 45.8h0M188.6 45.8h0M232.4 43.8h0M152.9 49.8h0M210.7 45.8h0M188.6 43.8h0M232.4 44.8h0M226.2 45.8h0M201.4 44.8h0M179.7 45.8h0M246.5 44.8h0M170.3 43.8h0M220.0 45.8h0M176.5 45.8h0M294.9 44.8h0M151.7 46.8h0M189.0 45.8h0M257.2 44.8h0M148.6 43.8h0M220.0 44.8h0M154.8 44.8h0M201.4 45.8h0M179.7 43.8h0M179.7 44.8h0M173.4 45.8h0M213.8 44.8h0M182.8 44.8h0M170.3 44.8h0M152.9 48.8h0M176.5 44.8h0M222.4 71.5h0M238.2 74.5h0M235.0 71.5h0M233.4 71.5h0M225.5 76.5h0M216.1 76.5h0M225.5 73.5h0M239.7 75.5h0M216.1 75.5h0M214.5 71.5h0M242.9 74.5h0M225.5 74.5h0M231.8 73.5h0M233.4 75.5h0M276.1 73.5h0M219.2 70.5h0M239.7 72.5h0M250.8 72.5h0M226.0 76.5h0M220.8 72.5h0M238.2 73.5h0M241.3 72.5h0M214.5 73.5h0M227.1 75.5h0M218.0 72.5h0M225.5 70.5h0M224.0 75.5h0M228.7 73.5h0M241.3 74.5h0M265.0 73.5h0M225.5 72.5h0M224.0 73.5h0M230.3 73.5h0M277.6 73.5h0M216.1 74.5h0M226.0 77.5h0M219.2 71.5h0M216.1 72.5h0M227.1 72.5h0M227.1 74.5h0M274.5 73.5h0M227.1 73.5h0M220.8 76.5h0M239.7 73.5h0M238.2 75.5h0M310.5 101.3h0M307.7 104.3h0M299.7 103.3h0M312.0 104.3h0M312.0 101.3h0M304.7 102.3h0M306.7 101.3h0M306.0 102.3h0M305.7 101.3h0M310.5 98.3h0M310.5 110.3h0M310.5 97.3h0M310.5 109.3h0M303.7 101.3h0M304.7 103.3h0M310.5 106.3h0M312.7 101.3h0M306.7 100.3h0M314.7 102.3h0M299.7 102.3h0M301.7 103.3h0M306.0 103.3h0M313.7 103.3h0M312.7 100.3h0M269.2 136.0h0M275.1 130.0h0M272.6 133.0h0M269.2 131.0h0M282.4 125.0h0M271.3 133.0h0M267.5 130.0h0M277.6 133.0h0M272.6 132.0h0M282.4 137.0h0M275.1 132.0h0M269.2 138.0h0M277.6 131.0h0M282.4 138.0h0M271.3 130.0h0M283.9 132.0h0M282.4 132.0h0M277.6 132.0h0M276.3 133.0h0M272.6 130.0h0M267.5 133.0h0M273.8 130.0h0M282.4 139.0h0M276.3 132.0h0M266.9 159.8h0M262.9 160.8h0M263.9 159.8h0M273.9 157.8h0M276.9 156.8h0M274.9 161.8h0M267.9 160.8h0M258.9 159.8h0M267.9 158.8h0M272.5 163.8h0M258.9 160.8h0M264.9 158.8h0M271.3 154.8h0M275.9 162.8h0M264.9 160.8h0M259.9 158.8h0M272.9 158.8h0M267.9 159.8h0M275.7 188.6h0M272.7 189.6h0M273.7 187.6h0M269.7 189.6h0M276.7 188.6h0M272.7 188.6h0M284.7 188.6h0M270.3 186.6h0M276.7 187.6h0M276.7 190.6h0M280.7 190.6h0M285.7 188.6h0M285.7 189.6h0M281.7 188.6h0M279.7 188.6h0M270.3 189.6h0M285.7 187.6h0M270.7 189.6h0M280.7 189.6h0M281.7 187.6h0M264.7 188.6h0M262.7 188.6h0M266.7 188.6h0M283.7 187.6h0M267.7 189.6h0M269.7 188.6h0M275.7 190.6h0M265.7 187.6h0M280.7 188.6h0M278.7 187.6h0M257.6 217.3h0M244.6 217.3h0M266.6 217.3h0M249.8 219.3h0M248.6 217.3h0M244.6 218.3h0M251.6 216.3h0M262.6 217.3h0M254.6 217.3h0M264.6 218.3h0M250.6 217.3h0M251.6 217.3h0M249.8 218.3h0M248.6 218.3h0M265.6 218.3h0M265.6 217.3h0M264.6 216.3h0M263.6 217.3h0M271.5 245.1h0M280.5 241.1h0M284.5 244.1h0M282.5 249.1h0M281.5 248.1h0M272.5 245.1h0M282.5 243.1h0M280.5 245.1h0M275.5 247.1h0M278.5 250.1h0M283.5 244.1h0M279.5 245.1h0M275.5 243.1h0M283.5 248.1h0M277.5 246.1h0M280.5 249.1h0M273.5 245.1h0M278.5 245.1h0M274.5 245.1h0M272.5 248.1h0M272.5 249.1h0M275.5 248.1h0M283.5 250.1h0M274.5 244.1h0M282.5 244.1h0M284.5 245.1h0M269.5 248.1h0M276.5 245.1h0M274.5 247.1h0M283.5 242.1h0M278.6 248.1h0M281.5 244.1h0M278.5 249.1h0M279.5 249.1h0M286.5 245.1h0M276.5 244.1h0M281.5 251.1h0M275.5 244.1h0M280.5 243.1h0M282.5 246.1h0M282.5 247.1h0M278.6 242.1h0M278.6 251.1h0M281.5 246.1h0M280.5 242.1h0M279.5 250.1h0M270.5 246.1h0M278.6 250.1h0M275.5 250.1h0M282.5 250.1h0M285.5 245.1h0M280.1 282.8h0M284.0 275.8h0M280.1 271.8h0M280.1 278.8h0M286.0 276.8h0M282.0 277.8h0M274.0 275.8h0M279.0 271.8h0M280.1 276.8h0M272.0 275.8h0M279.0 277.8h0M276.0 273.8h0M278.0 274.8h0M277.0 274.8h0M280.0 276.8h0M281.0 274.8h0M280.0 267.8h0M278.0 273.8h0M257.0 275.8h0M273.0 274.8h0M285.0 276.8h0M272.0 274.8h0M280.1 274.8h0M275.0 274.8h0M272.0 272.8h0M282.0 275.8h0M287.0 275.8h0M283.0 273.8h0M278.0 271.8h0M286.0 275.8h0M280.1 281.8h0M280.1 280.8h0M280.1 267.8h0M280.1 277.8h0M283.0 274.8h0M268.0 274.8h0M280.0 277.8h0M284.0 273.8h0M276.0 274.8h0M281.0 273.8h0M281.0 275.8h0M286.3 301.6h0M284.3 305.6h0M282.4 310.6h0M279.3 300.6h0M280.3 303.6h0M268.3 304.6h0M281.3 306.6h0M287.3 302.6h0M271.3 302.6h0M283.3 301.6h0M275.3 303.6h0M278.3 303.6h0M282.4 300.6h0M282.4 299.6h0M274.3 301.6h0M287.3 301.6h0M275.3 300.6h0M282.4 308.6h0M288.3 303.6h0M278.3 301.6h0M269.3 304.6h0M273.3 303.6h0M279.3 305.6h0M280.3 310.6h0M281.3 304.6h0M285.3 305.6h0M280.3 299.6h0M283.3 304.6h0M284.3 306.6h0M277.3 302.6h0M277.3 307.6h0M284.3 303.6h0M282.4 296.6h0M282.3 305.6h0M280.3 304.6h0M277.3 306.6h0M280.3 309.6h0M286.3 302.6h0M287.3 306.6h0M276.3 304.6h0M275.3 306.6h0M282.4 303.6h0M278.3 302.6h0M280.3 306.6h0M272.3 302.6h0" stroke="#ff0051"/><path d="M452.9 44.8h0M446.7 46.8h0M437.9 44.8h0M447.0 47.8h0M449.0 45.8h0M443.6 43.8h0M449.0 47.8h0M443.6 45.8h0M449.0 37.8h0M386.3 44.8h0M449.0 39.8h0M452.9 45.8h0M446.7 44.8h0M449.0 49.8h0M459.1 44.8h0M447.0 46.8h0M361.3 73.5h0M366.9 79.5h0M366.9 75.5h0M351.9 73.5h0M369.2 73.5h0M364.5 75.5h0M342.4 73.5h0M358.2 73.5h0M364.5 74.5h0M366.9 70.5h0M366.9 76.5h0M332.9 73.5h0M366.9 77.5h0M362.9 74.5h0M366.9 69.5h0M296.7 102.3h0M299.7 101.3h0M265.7 102.3h0M271.7 103.3h0M307.7 102.3h0M270.7 101.3h0M280.7 102.3h0M296.7 103.3h0M287.7 157.8h0M287.7 162.8h0M282.9 163.8h0M286.9 157.8h0M284.9 157.8h0M287.7 156.8h0M285.9 164.8h0M283.9 155.8h0M285.9 163.8h0M281.9 161.8h0M283.9 154.8h0M282.9 156.8h0M287.7 164.8h0M284.9 159.8h0M287.9 160.8h0M287.7 163.8h0M287.7 153.8h0M281.9 156.8h0M281.9 165.8h0M281.9 157.8h0M281.9 160.8h0M285.9 160.8h0M314.3 181.6h0M309.7 188.6h0M314.3 183.6h0M314.3 186.6h0M314.3 190.6h0M310.7 187.6h0M314.3 194.6h0M314.3 187.6h0M314.3 195.6h0M314.3 188.6h0M285.6 216.3h0M291.6 217.3h0M288.6 220.3h0M286.6 215.3h0M293.6 218.3h0M265.3 303.6h0" stroke="#9233b9"/><path d="M303.7 44.8h0M315.5 44.8h0M412.9 44.8h0M306.0 44.8h0M369.0 44.8h0M344.0 73.5h0M334.5 73.5h0M307.6 73.5h0M295.0 73.5h0M364.5 72.5h0M331.3 73.5h0M340.8 73.5h0M296.6 73.5h0M321.9 73.5h0M299.7 73.5h0M301.3 73.5h0M270.7 102.3h0M255.7 103.3h0M253.7 102.3h0M257.7 101.3h0M271.7 101.3h0M272.7 103.3h0M285.7 102.3h0M261.7 102.3h0M280.7 103.3h0M263.7 103.3h0M257.7 104.3h0M265.7 103.3h0M284.7 103.3h0M359.5 131.0h0M384.7 131.0h0M363.3 131.0h0M347.7 131.0h0M327.9 159.8h0M304.9 159.8h0M311.9 159.8h0M310.9 160.8h0M334.9 160.8h0M309.9 159.8h0M321.9 160.8h0M339.9 159.8h0M292.7 188.6h0M288.7 188.6h0M311.7 190.6h0M303.7 188.6h0M307.7 189.6h0M308.7 188.6h0M297.7 189.6h0M296.7 189.6h0M304.7 189.6h0M290.0 219.3h0M292.6 218.3h0M286.6 219.3h0M294.6 217.3h0M290.0 218.3h0M288.6 215.3h0M292.6 221.3h0M292.6 217.3h0M289.6 219.3h0M295.6 221.3h0M295.6 220.3h0M289.6 221.3h0M306.5 246.1h0M321.5 246.1h0M296.5 246.1h0M298.5 246.1h0M329.5 246.1h0M307.5 247.1h0M314.5 246.1h0M293.5 246.1h0M305.5 246.1h0M330.5 246.1h0M325.5 246.1h0M342.4 246.1h0M297.0 275.8h0M309.0 274.8h0M322.0 274.8h0M304.0 275.8h0M318.0 274.8h0M317.0 274.8h0M316.0 274.8h0M308.0 274.8h0M325.0 274.8h0M323.0 274.8h0M322.0 275.8h0M300.0 274.8h0M312.3 303.6h0M299.3 302.6h0M313.3 303.6h0M301.3 303.6h0M326.3 303.6h0M308.3 304.6h0M302.3 303.6h0M313.3 304.6h0M323.3 303.6h0M337.9 303.6h0M295.3 303.6h0M320.3 304.6h0M297.3 302.6h0M314.3 303.6h0M297.3 303.6h0M301.3 304.6h0M307.3 303.6h0M320.3 303.6h0M311.3 303.6h0M296.3 304.6h0M309.3 303.6h0M325.3 303.6h0M298.3 304.6h0M299.3 304.6h0M324.3 302.6h0" stroke="#008bfb"/><path d="M290.7 102.3h0M284.7 102.3h0M275.7 101.3h0M260.4 102.3h0M281.7 102.3h0M260.4 106.3h0M258.7 103.3h0M260.4 99.3h0M273.7 101.3h0M267.7 102.3h0M276.7 103.3h0M280.9 157.8h0M275.9 156.8h0M280.9 161.8h0M281.7 155.8h0M275.9 159.8h0M279.9 155.8h0M275.9 158.8h0M274.9 156.8h0M276.9 158.8h0M272.9 160.8h0M274.9 162.8h0M285.6 217.3h0M295.6 216.3h0M290.6 217.3h0M291.6 219.3h0M298.6 215.3h0M291.6 216.3h0M292.6 219.3h0M290.6 219.3h0M293.6 220.3h0M288.6 217.3h0M286.6 216.3h0M296.6 218.3h0M290.6 214.3h0M293.6 216.3h0M294.6 219.3h0M290.6 213.3h0M300.6 221.3h0M294.6 214.3h0M300.6 223.3h0M289.6 215.3h0M285.6 218.3h0M300.6 214.3h0M287.6 218.3h0M289.6 214.3h0M272.3 304.6h0M281.3 303.6h0M284.3 302.6h0M272.3 303.6h0M285.3 306.6h0M276.3 305.6h0M285.3 303.6h0M273.3 300.6h0M274.3 304.6h0" stroke="#df0086"/><path d="M277.9 159.8h0M288.9 160.8h0M283.9 162.8h0M282.9 160.8h0M281.9 163.8h0M281.9 164.8h0M279.9 162.8h0M282.9 161.8h0M281.9 154.8h0M278.9 159.8h0M278.9 160.8h0M279.9 160.8h0M281.7 164.8h0M287.7 155.8h0M286.9 154.8h0M286.9 159.8h0M281.7 163.8h0M277.9 158.8h0M281.9 159.8h0M277.9 162.8h0M285.9 155.8h0M287.7 159.8h0M283.9 158.8h0" stroke="#bf009d"/><path d="M148.6 45.8h0M185.9 44.8h0M152.9 41.8h0M188.6 42.8h0M223.1 43.8h0M152.9 39.8h0M188.6 44.8h0M154.8 46.8h0M148.6 44.8h0M152.9 50.8h0M188.6 46.8h0M185.9 45.8h0M189.0 46.8h0M192.1 44.8h0M192.1 45.8h0M229.3 45.8h0M188.6 47.8h0M167.2 45.8h0M232.4 45.8h0M274.2 44.8h0M189.0 44.8h0M152.9 42.8h0M210.7 44.8h0M185.9 43.8h0M223.1 45.8h0M173.4 44.8h0M213.8 43.8h0M152.9 44.8h0M223.1 44.8h0M284.0 44.8h0M225.5 75.5h0M214.5 72.5h0M271.3 73.5h0M214.5 74.5h0M218.0 70.5h0M228.7 74.5h0M219.2 74.5h0M241.3 73.5h0M222.4 74.5h0M239.7 74.5h0M226.0 75.5h0M249.2 74.5h0M218.0 76.5h0M214.5 76.5h0M217.6 72.5h0M222.4 72.5h0M231.8 76.5h0M219.2 72.5h0M226.0 69.5h0M231.8 71.5h0M224.0 72.5h0M233.4 73.5h0M228.7 71.5h0M236.6 74.5h0M230.3 72.5h0M224.0 74.5h0M279.2 73.5h0M217.6 75.5h0M219.2 77.5h0M225.5 71.5h0M269.7 73.5h0M214.5 75.5h0M220.8 74.5h0M231.8 72.5h0M226.0 73.5h0M247.6 74.5h0M219.2 75.5h0M220.8 71.5h0M220.8 73.5h0M219.2 73.5h0M250.8 73.5h0M246.1 73.5h0M235.0 72.5h0M218.0 69.5h0M250.8 74.5h0M235.0 73.5h0M257.1 73.5h0M217.6 74.5h0M308.7 104.3h0M306.0 101.3h0M310.5 102.3h0M308.7 102.3h0M310.5 108.3h0M308.7 103.3h0M312.7 102.3h0M324.2 102.3h0M304.7 100.3h0M307.7 100.3h0M313.7 101.3h0M312.7 105.3h0M304.7 101.3h0M310.5 99.3h0M306.0 105.3h0M312.0 100.3h0M312.7 103.3h0M310.5 104.3h0M307.7 103.3h0M305.7 103.3h0M306.7 103.3h0M303.7 103.3h0M304.7 104.3h0M310.5 107.3h0M312.0 105.3h0M282.4 133.0h0M282.4 135.0h0M266.3 131.0h0M282.4 129.0h0M282.4 128.0h0M266.3 132.0h0M282.4 140.0h0M272.6 131.0h0M269.2 135.0h0M271.3 132.0h0M278.9 133.0h0M267.5 131.0h0M276.3 131.0h0M273.8 132.0h0M282.4 127.0h0M282.4 136.0h0M265.0 131.0h0M282.4 134.0h0M269.2 132.0h0M275.1 133.0h0M282.4 126.0h0M278.9 131.0h0M259.9 159.8h0M273.9 161.8h0M271.3 160.8h0M271.3 155.8h0M263.9 161.8h0M261.9 159.8h0M265.9 159.8h0M275.9 161.8h0M271.3 165.8h0M271.3 161.8h0M276.9 162.8h0M272.5 162.8h0M271.3 164.8h0M263.9 158.8h0M273.9 158.8h0M264.9 161.8h0M261.9 158.8h0M264.9 159.8h0M271.3 166.8h0M262.9 159.8h0M284.7 187.6h0M282.7 190.6h0M276.7 189.6h0M263.7 188.6h0M282.7 189.6h0M280.7 187.6h0M271.7 187.6h0M278.7 188.6h0M283.7 189.6h0M264.7 189.6h0M283.7 186.6h0M266.7 189.6h0M283.7 188.6h0M268.7 187.6h0M279.7 190.6h0M276.7 186.6h0M262.7 189.6h0M279.7 189.6h0M282.7 187.6h0M270.3 188.6h0M272.7 187.6h0M267.7 188.6h0M272.7 190.6h0M272.7 191.6h0M284.7 190.6h0M273.7 188.6h0M265.7 189.6h0M277.7 188.6h0M267.7 187.6h0M275.7 189.6h0M268.7 188.6h0M281.7 186.6h0M258.6 218.3h0M254.6 218.3h0M271.6 217.3h0M272.6 217.3h0M272.6 218.3h0M258.6 217.3h0M264.6 217.3h0M264.6 219.3h0M263.6 216.3h0M249.8 217.3h0M249.8 220.3h0M265.6 216.3h0M249.8 215.3h0M249.8 216.3h0M279.5 246.1h0M284.5 250.1h0M278.6 240.1h0M277.5 250.1h0M272.5 247.1h0M281.5 250.1h0M281.5 245.1h0M285.5 248.1h0M270.5 248.1h0M279.5 244.1h0M267.5 247.1h0M282.5 245.1h0M278.6 249.1h0M278.5 247.1h0M276.5 243.1h0M273.5 247.1h0M280.5 248.1h0M276.5 250.1h0M284.5 243.1h0M280.5 251.1h0M273.5 246.1h0M281.5 247.1h0M282.5 248.1h0M279.5 243.1h0M278.5 244.1h0M283.5 245.1h0M268.5 246.1h0M268.5 248.1h0M276.5 247.1h0M280.5 244.1h0M271.5 247.1h0M277.5 244.1h0M268.5 247.1h0M275.5 249.1h0M280.5 252.1h0M282.5 242.1h0M278.5 246.1h0M269.5 247.1h0M275.5 251.1h0M283.5 243.1h0M275.5 246.1h0M278.6 253.1h0M281.5 242.1h0M285.5 247.1h0M278.6 246.1h0M278.6 247.1h0M269.5 246.1h0M278.6 239.1h0M270.5 247.1h0M280.5 250.1h0M284.5 248.1h0M273.5 248.1h0M258.0 274.8h0M269.0 275.8h0M287.0 274.8h0M277.0 275.8h0M282.0 272.8h0M280.0 270.8h0M274.0 276.8h0M285.0 274.8h0M279.0 273.8h0M274.0 274.8h0M279.0 275.8h0M280.0 274.8h0M276.0 275.8h0M280.0 271.8h0M268.0 273.8h0M277.0 277.8h0M278.0 276.8h0M279.0 278.8h0M276.0 276.8h0M280.1 270.8h0M274.0 273.8h0M284.0 274.8h0M277.0 272.8h0M280.1 273.8h0M283.0 276.8h0M269.0 274.8h0M280.0 278.8h0M282.0 276.8h0M278.0 277.8h0M280.0 280.8h0M280.0 273.8h0M280.0 269.8h0M280.0 281.8h0M273.0 275.8h0M284.0 276.8h0M277.0 270.8h0M281.0 271.8h0M272.0 273.8h0M274.0 277.8h0M277.0 279.8h0M271.0 275.8h0M275.0 273.8h0M270.0 273.8h0M278.0 275.8h0M280.0 275.8h0M279.3 302.6h0M282.4 304.6h0M271.3 304.6h0M267.3 305.6h0M282.3 300.6h0M282.4 305.6h0M273.3 307.6h0M273.3 305.6h0M279.3 308.6h0M282.4 307.6h0M282.4 306.6h0M283.3 306.6h0M280.3 305.6h0M285.3 302.6h0M268.3 303.6h0M285.3 300.6h0M277.3 304.6h0M282.3 307.6h0M280.3 302.6h0M280.3 307.6h0M283.3 305.6h0M283.3 302.6h0M277.3 303.6h0M286.3 306.6h0M283.3 303.6h0M270.3 303.6h0M286.3 303.6h0M285.3 301.6h0M274.3 305.6h0M280.3 301.6h0M281.3 300.6h0M276.3 301.6h0M278.3 299.6h0M286.3 304.6h0M287.3 303.6h0M284.3 301.6h0M269.3 305.6h0M278.3 305.6h0M271.3 303.6h0M273.3 306.6h0M272.3 305.6h0M277.3 301.6h0M274.3 303.6h0" stroke="#ff0051"/><path d="M340.6 44.8h0M324.4 44.8h0M424.7 44.8h0M406.0 44.8h0M381.9 44.8h0M433.5 44.8h0M352.0 44.8h0M331.7 44.8h0M287.5 44.8h0M358.3 44.8h0M358.2 72.5h0M320.3 73.5h0M285.5 73.5h0M317.1 73.5h0M318.7 73.5h0M328.2 73.5h0M302.9 73.5h0M293.4 73.5h0M306.1 73.5h0M329.7 73.5h0M339.2 73.5h0M325.0 73.5h0M246.7 102.3h0M251.7 102.3h0M269.7 102.3h0M257.7 102.3h0M277.7 102.3h0M256.7 102.3h0M283.7 102.3h0M261.7 103.3h0M273.7 103.3h0M307.8 131.0h0M301.5 132.0h0M304.1 131.0h0M310.4 131.0h0M311.6 131.0h0M300.3 131.0h0M319.9 159.8h0M308.9 160.8h0M312.9 159.8h0M313.9 160.8h0M308.9 159.8h0M310.9 159.8h0M334.9 159.8h0M314.9 160.8h0M331.9 159.8h0M326.9 159.8h0M291.7 188.6h0M311.7 186.6h0M296.7 188.6h0M309.7 189.6h0M302.7 188.6h0M311.7 189.6h0M289.7 188.6h0M287.7 188.6h0M294.7 188.6h0M289.6 220.3h0M295.6 214.3h0M292.6 214.3h0M295.6 219.3h0M296.6 216.3h0M288.6 218.3h0M298.6 216.3h0M290.6 215.3h0M288.6 214.3h0M290.6 216.3h0M288.6 216.3h0M294.6 220.3h0M292.6 215.3h0M298.6 218.3h0M303.5 246.1h0M304.5 246.1h0M295.5 246.1h0M334.5 246.1h0M302.5 246.1h0M294.5 246.1h0M300.5 246.1h0M321.5 247.1h0M332.5 246.1h0M330.5 247.1h0M324.5 246.1h0M303.5 247.1h0M306.0 274.8h0M312.0 274.8h0M298.0 275.8h0M294.0 274.8h0M314.0 274.8h0M351.5 274.8h0M304.0 274.8h0M299.0 274.8h0M319.3 303.6h0M316.3 303.6h0M306.3 303.6h0M305.3 303.6h0M314.3 304.6h0M318.3 303.6h0M328.3 303.6h0M322.3 303.6h0M310.3 304.6h0M327.3 303.6h0M316.3 304.6h0M315.3 304.6h0M300.3 304.6h0M323.3 304.6h0M308.3 303.6h0M302.3 304.6h0M310.3 302.6h0M328.3 304.6h0M325.3 304.6h0M315.3 303.6h0" stroke="#008bfb"/><path d="M449.0 38.8h0M449.0 50.8h0M447.0 42.8h0M374.5 44.8h0M449.0 44.8h0M449.0 46.8h0M446.7 45.8h0M443.6 44.8h0M447.0 44.8h0M418.0 44.8h0M449.0 48.8h0M449.0 51.8h0M443.6 46.8h0M359.7 73.5h0M366.9 68.5h0M356.6 73.5h0M355.0 73.5h0M359.7 75.5h0M356.6 74.5h0M369.2 72.5h0M369.2 74.5h0M366.9 73.5h0M366.9 72.5h0M350.3 73.5h0M305.7 102.3h0M262.7 102.3h0M295.7 102.3h0M298.7 102.3h0M295.7 103.3h0M275.7 102.3h0M282.7 102.3h0M308.7 101.3h0M274.7 102.3h0M285.9 161.8h0M282.9 162.8h0M284.9 160.8h0M283.9 164.8h0M282.9 159.8h0M281.9 155.8h0M287.7 165.8h0M285.9 157.8h0M285.9 162.8h0M288.9 161.8h0M288.9 162.8h0M287.7 161.8h0M287.9 157.8h0M286.9 160.8h0M283.9 157.8h0M283.9 156.8h0M284.9 161.8h0M285.9 159.8h0M283.9 160.8h0M282.9 158.8h0M309.7 187.6h0M314.3 193.6h0M314.3 182.6h0M309.7 190.6h0M312.7 189.6h0M314.3 180.6h0M310.7 189.6h0M314.3 185.6h0M288.6 219.3h0M286.6 220.3h0M289.6 213.3h0M296.6 217.3h0M290.0 221.3h0M295.6 218.3h0M295.6 215.3h0M290.6 218.3h0M258.3 303.6h0" stroke="#9233b9"/><path d="M260.4 103.3h0M258.7 102.3h0M278.7 103.3h0M276.7 102.3h0M260.7 102.3h0M279.7 102.3h0M273.7 102.3h0M260.4 100.3h0M268.7 102.3h0M271.7 104.3h0M260.4 104.3h0M278.7 102.3h0M256.7 103.3h0M264.7 102.3h0M277.9 157.8h0M278.9 157.8h0M275.9 160.8h0M279.9 159.8h0M278.9 162.8h0M280.9 158.8h0M276.9 161.8h0M277.9 156.8h0M273.9 160.8h0M274.9 159.8h0M272.5 158.8h0M277.9 154.8h0M276.9 160.8h0M279.9 158.8h0M272.5 160.8h0M272.9 161.8h0M300.6 219.3h0M289.6 216.3h0M286.6 217.3h0M300.6 210.3h0M300.6 222.3h0M290.0 216.3h0M300.6 215.3h0M296.6 215.3h0M294.6 215.3h0M300.6 217.3h0M290.0 214.3h0M297.6 214.3h0M286.6 218.3h0M299.6 217.3h0M290.0 217.3h0M300.6 213.3h0M297.6 217.3h0M294.6 216.3h0M289.6 217.3h0M299.6 215.3h0M287.6 217.3h0M299.6 218.3h0M282.4 301.6h0M282.4 302.6h0M278.3 309.6h0M279.3 307.6h0M269.3 302.6h0M270.3 302.6h0M278.3 300.6h0M287.3 304.6h0M281.3 302.6h0M287.3 305.6h0M279.3 306.6h0M278.3 306.6h0M275.3 304.6h0M274.3 302.6h0M268.3 305.6h0" stroke="#df0086"/><path d="M277.9 160.8h0M281.7 157.8h0M288.9 159.8h0M279.9 164.8h0M285.9 158.8h0M281.7 162.8h0M283.9 161.8h0M277.9 161.8h0M286.9 164.8h0M284.9 156.8h0M286.9 161.8h0M286.9 163.8h0M281.7 161.8h0M287.7 160.8h0M287.9 162.8h0M287.7 158.8h0" stroke="#bf009d"/><path d="M189.0 43.8h0M157.9 43.8h0M152.9 47.8h0M154.8 43.8h0M182.8 45.8h0M152.9 45.8h0M152.9 43.8h0M192.1 46.8h0M238.7 44.8h0M148.6 46.8h0M157.9 45.8h0M226.2 44.8h0M198.3 44.8h0M229.3 44.8h0M204.5 44.8h0M151.7 42.8h0M229.3 43.8h0M151.7 45.8h0M152.9 46.8h0M164.1 43.8h0M152.9 40.8h0M173.4 43.8h0M207.6 44.8h0M220.0 43.8h0M198.3 43.8h0M154.8 45.8h0M192.1 43.8h0M198.3 45.8h0M161.0 44.8h0M167.2 44.8h0M157.9 44.8h0M164.1 45.8h0M151.7 43.8h0M151.7 44.8h0M151.7 41.8h0M230.3 74.5h0M220.8 75.5h0M225.5 77.5h0M227.1 71.5h0M236.6 73.5h0M218.0 74.5h0M249.2 73.5h0M218.0 78.5h0M233.4 74.5h0M226.0 74.5h0M244.5 73.5h0M235.0 75.5h0M222.4 75.5h0M235.0 74.5h0M217.6 73.5h0M233.4 72.5h0M242.9 73.5h0M226.0 71.5h0M233.4 76.5h0M230.3 75.5h0M218.0 75.5h0M258.7 73.5h0M231.8 74.5h0M255.5 73.5h0M222.4 73.5h0M217.6 71.5h0M212.9 73.5h0M226.0 70.5h0M227.1 76.5h0M226.0 72.5h0M218.0 77.5h0M231.8 75.5h0M218.0 73.5h0M216.1 73.5h0M216.1 71.5h0M219.2 76.5h0M244.5 74.5h0M228.7 72.5h0M228.7 75.5h0M238.2 72.5h0M212.9 74.5h0M257.1 74.5h0M218.0 71.5h0M247.6 73.5h0M298.7 101.3h0M312.7 104.3h0M310.5 103.3h0M297.7 102.3h0M298.7 103.3h0M306.7 104.3h0M312.0 102.3h0M310.5 95.3h0M301.7 102.3h0M306.7 102.3h0M303.7 102.3h0M305.7 104.3h0M301.7 104.3h0M310.5 100.3h0M304.7 105.3h0M316.7 102.3h0M310.5 94.3h0M312.0 103.3h0M306.0 104.3h0M313.7 102.3h0M301.7 101.3h0M307.7 101.3h0M310.5 105.3h0M306.0 100.3h0M310.5 96.3h0M273.8 131.0h0M269.2 129.0h0M269.2 125.0h0M276.3 130.0h0M277.6 130.0h0M269.2 137.0h0M277.6 129.0h0M271.3 131.0h0M282.4 124.0h0M269.2 126.0h0M283.9 131.0h0M269.2 133.0h0M269.2 128.0h0M282.4 130.0h0M275.1 131.0h0M267.5 132.0h0M282.4 123.0h0M278.9 130.0h0M282.4 131.0h0M278.9 132.0h0M269.2 127.0h0M269.2 130.0h0M269.2 134.0h0M265.9 161.8h0M266.9 161.8h0M274.9 157.8h0M271.3 157.8h0M263.9 160.8h0M272.5 161.8h0M271.3 162.8h0M272.5 156.8h0M276.9 163.8h0M259.9 160.8h0M266.9 160.8h0M271.3 156.8h0M275.9 157.8h0M266.9 158.8h0M276.9 157.8h0M272.9 159.8h0M260.9 159.8h0M274.9 160.8h0M271.3 159.8h0M273.9 159.8h0M261.9 160.8h0M271.3 158.8h0M271.3 153.8h0M271.3 163.8h0M265.9 160.8h0M265.9 158.8h0M258.9 158.8h0M272.5 159.8h0M275.9 163.8h0M266.7 190.6h0M277.7 189.6h0M280.7 186.6h0M274.7 188.6h0M283.7 190.6h0M264.7 187.6h0M271.7 190.6h0M271.7 188.6h0M281.7 190.6h0M265.7 188.6h0M271.7 189.6h0M275.7 187.6h0M284.7 189.6h0M270.7 187.6h0M270.7 188.6h0M270.3 187.6h0M278.7 189.6h0M263.7 189.6h0M271.7 186.6h0M266.7 187.6h0M270.7 190.6h0M270.3 191.6h0M270.3 190.6h0M263.7 187.6h0M274.7 189.6h0M281.7 189.6h0M265.7 190.6h0M282.7 188.6h0M274.7 187.6h0M268.7 189.6h0M279.7 187.6h0M273.7 189.6h0M272.7 186.6h0M270.6 217.3h0M249.6 215.3h0M247.6 217.3h0M241.6 217.3h0M252.6 217.3h0M249.6 216.3h0M250.6 218.3h0M266.6 218.3h0M249.6 219.3h0M249.6 217.3h0M249.6 218.3h0M273.6 217.3h0M263.6 218.3h0M243.6 217.3h0M269.6 217.3h0M251.6 218.3h0M259.6 217.3h0M249.6 220.3h0M277.9 217.3h0M274.5 246.1h0M274.5 249.1h0M286.5 246.1h0M276.5 248.1h0M284.5 246.1h0M266.5 247.1h0M284.5 249.1h0M273.5 244.1h0M283.5 249.1h0M278.6 252.1h0M281.5 249.1h0M283.5 246.1h0M278.6 241.1h0M272.5 244.1h0M278.6 245.1h0M272.5 246.1h0M278.6 254.1h0M280.5 246.1h0M277.5 248.1h0M270.5 245.1h0M277.5 245.1h0M269.5 245.1h0M276.5 249.1h0M285.5 246.1h0M281.5 243.1h0M283.5 247.1h0M277.5 243.1h0M276.5 242.1h0M284.5 247.1h0M271.5 244.1h0M278.6 244.1h0M275.5 245.1h0M268.5 245.1h0M278.5 243.1h0M274.5 248.1h0M280.5 247.1h0M271.5 246.1h0M279.5 247.1h0M272.5 243.1h0M279.5 248.1h0M273.5 249.1h0M277.5 247.1h0M278.6 243.1h0M267.5 246.1h0M281.5 241.1h0M271.5 248.1h0M276.5 246.1h0M275.5 242.1h0M277.5 242.1h0M286.5 247.1h0M278.5 248.1h0M266.5 246.1h0M277.5 249.1h0M274.0 272.8h0M279.0 270.8h0M268.0 275.8h0M278.0 272.8h0M281.0 272.8h0M277.0 278.8h0M257.0 274.8h0M280.1 269.8h0M281.0 276.8h0M279.0 279.8h0M286.0 273.8h0M280.1 272.8h0M270.0 274.8h0M269.0 273.8h0M270.0 275.8h0M280.0 272.8h0M279.0 274.8h0M283.0 275.8h0M277.0 276.8h0M280.1 279.8h0M273.0 273.8h0M279.0 276.8h0M280.1 275.8h0M281.0 278.8h0M285.0 275.8h0M280.0 279.8h0M277.0 273.8h0M270.0 276.8h0M271.0 273.8h0M282.0 273.8h0M277.0 271.8h0M275.0 275.8h0M279.0 272.8h0M273.0 276.8h0M286.0 274.8h0M281.0 277.8h0M280.0 268.8h0M285.0 273.8h0M271.0 274.8h0M280.1 268.8h0M282.0 274.8h0M272.0 276.8h0M268.3 302.6h0M282.3 306.6h0M276.3 303.6h0M279.3 301.6h0M273.3 304.6h0M282.3 298.6h0M277.3 305.6h0M282.3 303.6h0M271.3 305.6h0M273.3 301.6h0M276.3 306.6h0M276.3 302.6h0M267.3 304.6h0M282.3 308.6h0M275.3 305.6h0M271.3 301.6h0M280.3 300.6h0M275.3 302.6h0M274.3 306.6h0M267.3 303.6h0M280.3 298.6h0M282.4 309.6h0M270.3 305.6h0M282.3 302.6h0M275.3 301.6h0M278.3 304.6h0M267.3 302.6h0M278.3 298.6h0M277.3 300.6h0M281.3 305.6h0M279.3 304.6h0M280.3 297.6h0M284.3 304.6h0M285.3 304.6h0M279.3 303.6h0M280.3 308.6h0M282.3 299.6h0M278.3 308.6h0M282.3 304.6h0M282.4 298.6h0M269.3 303.6h0M270.3 304.6h0M282.3 301.6h0M273.3 302.6h0M276.3 300.6h0M279.3 299.6h0" stroke="#ff0051"/><path d="M456.0 44.8h0M449.0 43.8h0M446.7 42.8h0M446.7 43.8h0M449.0 42.8h0M447.0 43.8h0M449.0 40.8h0M447.0 45.8h0M449.0 41.8h0M366.9 78.5h0M366.9 74.5h0M366.9 80.5h0M314.0 73.5h0M356.6 72.5h0M369.2 75.5h0M370.8 73.5h0M359.7 74.5h0M361.3 74.5h0M359.7 72.5h0M366.9 67.5h0M366.9 71.5h0M286.7 102.3h0M270.7 103.3h0M302.7 103.3h0M302.7 102.3h0M300.7 102.3h0M287.9 158.8h0M284.9 162.8h0M284.9 158.8h0M281.9 158.8h0M286.9 156.8h0M287.9 161.8h0M286.9 162.8h0M282.9 155.8h0M282.9 164.8h0M287.9 156.8h0M286.9 158.8h0M283.9 163.8h0M288.9 157.8h0M288.9 158.8h0M287.9 159.8h0M314.3 189.6h0M312.7 188.6h0M314.3 191.6h0M315.7 188.6h0M311.7 188.6h0M314.3 192.6h0M314.3 196.6h0M316.7 189.6h0M310.7 188.6h0M311.7 187.6h0M316.7 188.6h0M314.3 184.6h0M298.6 219.3h0M298.6 217.3h0M291.6 220.3h0M298.6 220.3h0M292.6 216.3h0M297.6 218.3h0M291.6 215.3h0M293.6 215.3h0M297.6 219.3h0M262.3 303.6h0M259.3 303.6h0" stroke="#9233b9"/><path d="M399.6 44.8h0M336.2 44.8h0M393.7 44.8h0M318.5 44.8h0M429.1 44.8h0M364.2 44.8h0M346.5 44.8h0M280.1 44.8h0M290.4 44.8h0M358.2 75.5h0M315.5 73.5h0M356.6 75.5h0M290.3 73.5h0M353.4 73.5h0M345.5 73.5h0M291.9 73.5h0M312.4 73.5h0M326.6 73.5h0M362.9 73.5h0M304.5 73.5h0M288.7 73.5h0M287.1 73.5h0M364.5 73.5h0M358.2 74.5h0M252.7 102.3h0M287.7 102.3h0M274.7 101.3h0M283.7 103.3h0M269.7 103.3h0M247.7 103.3h0M255.7 102.3h0M259.7 102.3h0M247.7 102.3h0M337.9 131.0h0M314.1 131.0h0M391.0 131.0h0M358.2 131.0h0M301.5 131.0h0M312.9 131.0h0M333.9 159.8h0M329.9 159.8h0M335.9 159.8h0M348.9 159.8h0M335.9 160.8h0M314.9 159.8h0M323.9 159.8h0M313.9 159.8h0M322.9 159.8h0M321.9 159.8h0M318.9 159.8h0M304.7 188.6h0M307.7 188.6h0M305.7 188.6h0M297.7 188.6h0M297.6 220.3h0M293.6 219.3h0M285.6 219.3h0M292.6 220.3h0M290.6 221.3h0M291.6 218.3h0M296.6 219.3h0M290.0 213.3h0M287.6 216.3h0M299.6 216.3h0M294.6 218.3h0M320.5 246.1h0M323.5 246.1h0M307.5 246.1h0M312.5 246.1h0M322.5 246.1h0M310.5 246.1h0M291.5 246.1h0M324.5 247.1h0M291.5 247.1h0M298.5 247.1h0M299.5 246.1h0M310.0 274.8h0M298.0 274.8h0M312.0 275.8h0M340.1 274.8h0M333.3 274.8h0M321.0 274.8h0M308.0 275.8h0M305.0 274.8h0M326.0 274.8h0M313.0 274.8h0M297.0 274.8h0M295.3 302.6h0M296.3 303.6h0M313.3 302.6h0M307.3 304.6h0M306.3 304.6h0M309.3 304.6h0M299.3 303.6h0M317.3 303.6h0M324.3 304.6h0M303.3 303.6h0M324.3 303.6h0M318.3 304.6h0M326.3 304.6h0M297.3 304.6h0M327.3 304.6h0M321.3 303.6h0M310.3 303.6h0M298.3 303.6h0M319.3 304.6h0M312.3 304.6h0M295.3 304.6h0M326.3 302.6h0M304.3 304.6h0M300.3 303.6h0M321.3 304.6h0M304.3 303.6h0M301.3 302.6h0" stroke="#008bfb"/><path d="M256.7 101.3h0M277.7 103.3h0M271.7 102.3h0M263.7 102.3h0M287.7 102.3h0M274.7 103.3h0M267.7 103.3h0M288.7 102.3h0M260.4 105.3h0M272.7 102.3h0M289.7 102.3h0M260.4 101.3h0M257.7 103.3h0M264.7 103.3h0M275.7 103.3h0M280.7 101.3h0M266.7 102.3h0M277.9 164.8h0M279.9 156.8h0M278.9 161.8h0M281.7 156.8h0M276.9 159.8h0M279.9 157.8h0M274.9 163.8h0M280.9 162.8h0M274.9 158.8h0M281.7 158.8h0M279.9 161.8h0M280.9 160.8h0M280.9 159.8h0M272.5 157.8h0M291.6 214.3h0M293.6 217.3h0M300.6 211.3h0M299.6 219.3h0M290.0 215.3h0M290.6 220.3h0M300.6 212.3h0M290.0 220.3h0M289.6 218.3h0M300.6 218.3h0M299.6 220.3h0M300.6 216.3h0M300.6 220.3h0M300.6 225.3h0M297.6 216.3h0M297.6 215.3h0M295.6 217.3h0M287.6 219.3h0M285.6 215.3h0M300.6 224.3h0M286.3 305.6h0M282.4 297.6h0M281.3 301.6h0M278.3 307.6h0" stroke="#df0086"/><path d="M279.9 163.8h0M282.9 157.8h0M278.9 158.8h0M286.9 155.8h0M283.9 159.8h0M277.9 155.8h0M281.9 162.8h0M281.7 160.8h0M285.9 156.8h0M277.9 163.8h0M281.7 159.8h0M287.7 154.8h0" stroke="#bf009d"/></g></g><line x1="134.3" y1="768.7" x2="474.5" y2="768.7" stroke="#7a7a7a" stroke-width="1.3"/><line x1="160.4" y1="768.7" x2="160.4" y2="772.3" stroke="#3a3a3a" stroke-width="1"/><text x="160.4" y="782.8" text-anchor="middle" font-size="10.6" fill="#404040" textLength="24.6" lengthAdjust="spacingAndGlyphs">−0.6</text><line x1="203.1" y1="768.7" x2="203.1" y2="772.3" stroke="#3a3a3a" stroke-width="1"/><text x="203.1" y="782.8" text-anchor="middle" font-size="10.6" fill="#404040" textLength="24.6" lengthAdjust="spacingAndGlyphs">−0.4</text><line x1="245.9" y1="768.7" x2="245.9" y2="772.3" stroke="#3a3a3a" stroke-width="1"/><text x="245.9" y="782.8" text-anchor="middle" font-size="10.6" fill="#404040" textLength="24.6" lengthAdjust="spacingAndGlyphs">−0.2</text><line x1="288.6" y1="768.7" x2="288.6" y2="772.3" stroke="#3a3a3a" stroke-width="1"/><text x="288.6" y="782.8" text-anchor="middle" font-size="10.6" fill="#404040" textLength="16.1" lengthAdjust="spacingAndGlyphs">0.0</text><line x1="331.4" y1="768.7" x2="331.4" y2="772.3" stroke="#3a3a3a" stroke-width="1"/><text x="331.4" y="782.8" text-anchor="middle" font-size="10.6" fill="#404040" textLength="16.1" lengthAdjust="spacingAndGlyphs">0.2</text><line x1="374.1" y1="768.7" x2="374.1" y2="772.3" stroke="#3a3a3a" stroke-width="1"/><text x="374.1" y="782.8" text-anchor="middle" font-size="10.6" fill="#404040" textLength="16.1" lengthAdjust="spacingAndGlyphs">0.4</text><line x1="416.9" y1="768.7" x2="416.9" y2="772.3" stroke="#3a3a3a" stroke-width="1"/><text x="416.9" y="782.8" text-anchor="middle" font-size="10.6" fill="#404040" textLength="16.1" lengthAdjust="spacingAndGlyphs">0.6</text><line x1="459.6" y1="768.7" x2="459.6" y2="772.3" stroke="#3a3a3a" stroke-width="1"/><text x="459.6" y="782.8" text-anchor="middle" font-size="10.6" fill="#404040" textLength="16.1" lengthAdjust="spacingAndGlyphs">0.8</text><text x="303.5" y="798.0" text-anchor="middle" font-size="11.5" fill="#222" textLength="229" lengthAdjust="spacingAndGlyphs">SHAP value (impact on model output)</text><text x="111.8" y="485.10" text-anchor="end" font-size="12.3" fill="#404040" textLength="61.4" lengthAdjust="spacingAndGlyphs">X3538947</text><text x="111.8" y="513.86" text-anchor="end" font-size="12.3" fill="#404040" textLength="72.8" lengthAdjust="spacingAndGlyphs">X3538947.1</text><text x="111.8" y="542.62" text-anchor="end" font-size="12.3" fill="#404040" textLength="61.4" lengthAdjust="spacingAndGlyphs">X3230190</text><text x="111.8" y="571.38" text-anchor="end" font-size="12.3" fill="#404040" textLength="61.4" lengthAdjust="spacingAndGlyphs">X1945063</text><text x="111.8" y="600.14" text-anchor="end" font-size="12.3" fill="#404040" textLength="61.4" lengthAdjust="spacingAndGlyphs">X1754779</text><text x="111.8" y="628.90" text-anchor="end" font-size="12.3" fill="#404040" textLength="72.8" lengthAdjust="spacingAndGlyphs">X3538947.2</text><text x="111.8" y="657.66" text-anchor="end" font-size="12.3" fill="#404040" textLength="61.4" lengthAdjust="spacingAndGlyphs">X4441501</text><text x="111.8" y="686.42" text-anchor="end" font-size="12.3" fill="#404040" textLength="61.4" lengthAdjust="spacingAndGlyphs">X4103589</text><text x="111.8" y="715.18" text-anchor="end" font-size="12.3" fill="#404040" textLength="53.8" lengthAdjust="spacingAndGlyphs">X578831</text><text x="111.8" y="743.94" text-anchor="end" font-size="12.3" fill="#404040" textLength="61.4" lengthAdjust="spacingAndGlyphs">X2100870</text><rect x="495.4" y="452.0" width="4.4" height="315.5" fill="url(#cb)"/><text x="503.2" y="455.8" font-size="10.6" fill="#404040" textLength="23.3" lengthAdjust="spacingAndGlyphs">High</text><text x="503.2" y="772.2" font-size="10.6" fill="#404040" textLength="20.0" lengthAdjust="spacingAndGlyphs">Low</text><text transform="translate(536.2,610.8) rotate(-90)" text-anchor="middle" font-size="11.5" fill="#404040" textLength="75.7" lengthAdjust="spacingAndGlyphs">Feature value</text><text x="288.5" y="833.6" text-anchor="middle" font-family='"Liberation Serif", serif' font-size="21" fill="#1e1e1e" stroke="#1e1e1e" stroke-width="0.12" textLength="203.3" lengthAdjust="spacingAndGlyphs">(C) Ceftazidime (CTZ)</text></g>
<g font-family='"Liberation Sans", sans-serif'><line x1="690.8" y1="480.75" x2="1031.0" y2="480.75" stroke="#f3f3f3" stroke-width="1"/><line x1="690.8" y1="509.51" x2="1031.0" y2="509.51" stroke="#f3f3f3" stroke-width="1"/><line x1="690.8" y1="538.27" x2="1031.0" y2="538.27" stroke="#f3f3f3" stroke-width="1"/><line x1="690.8" y1="567.03" x2="1031.0" y2="567.03" stroke="#f3f3f3" stroke-width="1"/><line x1="690.8" y1="595.79" x2="1031.0" y2="595.79" stroke="#f3f3f3" stroke-width="1"/><line x1="690.8" y1="624.55" x2="1031.0" y2="624.55" stroke="#f3f3f3" stroke-width="1"/><line x1="690.8" y1="653.31" x2="1031.0" y2="653.31" stroke="#f3f3f3" stroke-width="1"/><line x1="690.8" y1="682.07" x2="1031.0" y2="682.07" stroke="#f3f3f3" stroke-width="1"/><line x1="690.8" y1="710.83" x2="1031.0" y2="710.83" stroke="#f3f3f3" stroke-width="1"/><line x1="690.8" y1="739.59" x2="1031.0" y2="739.59" stroke="#f3f3f3" stroke-width="1"/><line x1="916.1" y1="452.0" x2="916.1" y2="768.7" stroke="#a5a5a5" stroke-width="1.3"/><g transform="translate(0,436.0)"><g fill="none" stroke-width="4" stroke-linecap="round"><path d="M977.6 40.8h0M965.7 44.8h0M960.0 42.8h0M947.6 46.8h0M977.6 39.8h0M973.2 42.8h0M973.2 49.8h0M977.6 42.8h0M973.2 40.8h0M973.2 46.8h0M977.6 49.8h0M944.0 43.8h0M949.5 45.8h0M984.9 45.8h0M973.2 41.8h0M973.2 48.8h0M963.1 43.8h0M973.2 44.8h0M973.2 45.8h0M965.7 46.8h0M984.9 44.8h0M972.2 74.5h0M976.4 80.5h0M976.4 70.5h0M976.4 67.5h0M972.2 76.5h0M929.8 73.5h0M969.5 73.5h0M976.4 69.5h0M927.1 74.5h0M960.0 75.5h0M976.4 73.5h0M985.4 73.5h0M976.4 74.5h0M982.8 74.5h0M961.6 76.5h0M967.6 71.5h0M964.2 72.5h0M833.2 158.8h0M829.6 159.8h0M833.2 159.8h0M835.0 158.8h0M832.0 162.8h0M833.2 156.8h0M832.0 162.8h0M832.0 156.8h0M864.4 160.8h0M853.4 159.8h0M932.4 186.6h0M944.4 184.6h0M944.4 190.6h0M923.6 188.6h0M934.0 189.6h0M948.2 188.6h0M944.4 194.6h0M934.1 187.6h0M937.7 190.6h0M944.4 187.6h0M950.0 188.6h0M944.4 191.6h0M935.9 189.6h0M939.4 185.6h0M930.6 189.6h0M944.4 186.6h0M944.4 195.6h0M927.1 189.6h0M928.9 188.6h0M938.8 225.3h0M940.3 219.3h0M938.8 214.3h0M930.8 215.3h0M933.7 219.3h0M942.0 218.3h0M940.3 217.3h0M938.8 209.3h0M933.7 214.3h0M940.3 218.3h0M920.6 218.3h0M792.6 274.8h0" stroke="#9233b9"/><path d="M968.5 45.8h0M935.9 45.8h0M963.1 46.8h0M949.5 46.8h0M956.0 47.8h0M963.1 45.8h0M965.8 46.8h0M976.7 43.8h0M949.5 44.8h0M954.9 45.8h0M971.3 42.8h0M941.3 44.8h0M954.9 43.8h0M956.0 45.8h0M952.2 44.8h0M956.0 44.8h0M957.6 43.8h0M961.6 75.5h0M964.2 75.5h0M960.0 73.5h0M961.6 74.5h0M967.6 72.5h0M974.8 74.5h0M827.7 160.8h0M835.0 159.8h0M829.6 157.8h0M833.2 160.8h0M827.7 159.8h0M831.4 158.8h0M928.8 216.3h0M932.1 221.3h0M928.8 221.3h0M930.5 214.3h0M935.4 213.3h0M930.5 215.3h0" stroke="#4c63e3"/><path d="M944.0 46.8h0M916.8 44.8h0M919.5 45.8h0M927.7 44.8h0M933.1 43.8h0M971.3 43.8h0M930.4 44.8h0M919.5 44.8h0M927.7 45.8h0M922.2 44.8h0M944.0 42.8h0M964.2 71.5h0M958.9 76.5h0M937.7 73.5h0M909.4 73.5h0M972.2 72.5h0M966.9 74.5h0M960.0 71.5h0M958.9 72.5h0M948.3 73.5h0M932.4 74.5h0M945.0 98.3h0M958.8 102.3h0M958.8 99.3h0M964.0 101.3h0M945.0 97.3h0M964.0 103.3h0M960.0 102.3h0M932.9 105.3h0M960.0 106.3h0M940.7 96.3h0M958.8 103.3h0M930.3 103.3h0M951.0 106.3h0M925.1 103.3h0M935.5 97.3h0M960.0 100.3h0M948.4 107.3h0M943.3 106.3h0M935.5 102.3h0M932.9 101.3h0M945.9 105.3h0M964.0 102.3h0M925.1 102.3h0M939.2 128.0h0M941.4 132.0h0M939.2 131.0h0M939.2 133.0h0M956.6 134.0h0M956.6 129.0h0M941.0 130.0h0M954.4 130.0h0M952.6 130.0h0M952.6 129.0h0M952.6 131.0h0M923.0 159.8h0M921.2 159.8h0M932.0 159.8h0M873.5 159.8h0M840.5 160.8h0M846.0 158.8h0M915.7 159.8h0M849.7 160.8h0M868.0 159.8h0M855.2 159.8h0M844.2 159.8h0M842.4 160.8h0M934.0 188.6h0M930.6 191.6h0M913.0 188.6h0M934.0 192.6h0M930.6 190.6h0M939.4 187.6h0M925.3 188.6h0M932.4 190.6h0M932.1 217.3h0M922.3 218.3h0M915.7 217.3h0M917.3 217.3h0M922.3 216.3h0M925.5 218.3h0M932.1 220.3h0M932.1 219.3h0M915.7 216.3h0M925.5 216.3h0M935.4 215.3h0M925.5 214.3h0M935.4 218.3h0M930.8 217.3h0M930.5 220.3h0M933.7 215.3h0M919.0 218.3h0M932.1 215.3h0M930.8 219.3h0M935.4 221.3h0M928.8 214.3h0M927.4 246.1h0M925.6 246.1h0M944.9 246.1h0M936.1 246.1h0M974.8 246.1h0M955.5 246.1h0M925.6 247.1h0M943.2 246.1h0M980.1 246.1h0M934.4 246.1h0M930.9 246.1h0M950.2 247.1h0M923.8 247.1h0M951.9 246.1h0M988.8 246.1h0M946.7 246.1h0M864.7 274.8h0M830.8 274.8h0M774.6 274.8h0M776.9 274.8h0M952.5 303.6h0M956.2 302.6h0M942.6 304.6h0M955.0 302.6h0M980.9 303.6h0M968.6 303.6h0M940.2 303.6h0M952.5 304.6h0M995.7 303.6h0M948.8 303.6h0M952.5 302.6h0M951.3 303.6h0M924.1 303.6h0M955.0 305.6h0M977.2 303.6h0" stroke="#008bfb"/><path d="M737.3 46.8h0M878.7 44.8h0M836.7 44.8h0M737.3 41.8h0M756.1 44.8h0M821.4 44.8h0M750.7 44.8h0M737.3 44.8h0M745.3 44.8h0M739.8 44.8h0M742.5 44.8h0M753.4 44.8h0M767.0 44.8h0M772.5 45.8h0M852.0 44.8h0M783.4 44.8h0M868.8 44.8h0M772.5 44.8h0M728.9 45.8h0M731.6 43.8h0M728.9 44.8h0M788.8 44.8h0M731.6 44.8h0M786.7 72.5h0M728.4 75.5h0M741.6 73.5h0M792.0 73.5h0M744.2 72.5h0M797.2 74.5h0M728.4 72.5h0M752.2 72.5h0M725.7 73.5h0M797.2 73.5h0M752.2 74.5h0M780.0 72.5h0M749.6 73.5h0M805.2 74.5h0M805.2 73.5h0M821.1 73.5h0M778.7 74.5h0M784.0 73.5h0M781.4 73.5h0M786.7 73.5h0M746.3 102.3h0M708.0 106.3h0M945.0 102.3h0M938.1 100.3h0M730.7 102.3h0M938.1 98.3h0M958.8 104.3h0M707.4 100.3h0M708.0 103.3h0M710.0 102.3h0M728.1 103.3h0M708.0 101.3h0M704.8 103.3h0M710.0 103.3h0M708.0 105.3h0M785.2 103.3h0M785.2 102.3h0M712.6 103.3h0M733.3 102.3h0M712.6 100.3h0M793.3 132.0h0M773.7 132.0h0M773.7 133.0h0M771.5 131.0h0M741.0 131.0h0M773.2 133.0h0M749.0 137.0h0M821.4 131.0h0M749.0 138.0h0M806.3 131.0h0M795.5 131.0h0M773.7 131.0h0M769.3 132.0h0M756.3 131.0h0M749.0 131.0h0M957.8 161.8h0M954.1 160.8h0M972.4 158.8h0M972.4 159.8h0M945.0 159.8h0M954.1 157.8h0M956.0 158.8h0M953.0 162.8h0M962.8 160.8h0M953.0 160.8h0M962.8 156.8h0M941.3 159.8h0M965.1 158.8h0M957.8 160.8h0M937.6 158.8h0M956.0 157.8h0M962.8 167.8h0M948.6 160.8h0M959.6 159.8h0M943.1 159.8h0M976.1 159.8h0M935.8 158.8h0M950.5 159.8h0M976.1 160.8h0M977.9 158.8h0M974.3 158.8h0M962.8 159.8h0M953.0 157.8h0M937.6 160.8h0M990.8 159.8h0M948.6 158.8h0M953.0 158.8h0M962.8 158.8h0M962.8 157.8h0M783.2 185.6h0M775.6 188.6h0M773.8 189.6h0M783.2 192.6h0M780.8 188.6h0M783.2 189.6h0M786.1 188.6h0M809.0 188.6h0M823.1 188.6h0M786.1 189.6h0M816.1 189.6h0M777.3 188.6h0M840.8 188.6h0M874.5 217.3h0M805.0 214.3h0M818.8 217.3h0M805.7 216.3h0M790.9 218.3h0M822.1 217.3h0M804.0 220.3h0M779.4 217.3h0M805.0 218.3h0M804.0 216.3h0M827.0 218.3h0M800.7 217.3h0M805.7 220.3h0M805.0 216.3h0M807.3 217.3h0M805.7 218.3h0M789.3 218.3h0M890.5 244.1h0M901.0 248.1h0M901.0 243.1h0M901.0 254.1h0M897.5 246.1h0M879.9 247.1h0M892.2 246.1h0M901.0 246.1h0M892.2 248.1h0M901.0 251.1h0M892.2 247.1h0M892.2 244.1h0M849.5 246.1h0M895.7 245.1h0M901.0 247.1h0M892.2 243.1h0M908.0 248.1h0M892.2 251.1h0M899.2 248.1h0M902.8 245.1h0M901.0 248.1h0M865.9 247.1h0M904.5 247.1h0M901.0 247.1h0M892.2 245.1h0M901.0 246.1h0M899.2 244.1h0M876.4 246.1h0M885.2 247.1h0M901.0 247.1h0M892.2 250.1h0M886.9 247.1h0M899.2 247.1h0M890.5 247.1h0M906.3 248.1h0M892.2 242.1h0M906.3 244.1h0M904.5 246.1h0M901.0 250.1h0M901.0 240.1h0M902.8 243.1h0M897.5 247.1h0M932.0 277.8h0M929.8 271.8h0M929.8 281.8h0M920.8 267.8h0M923.0 282.8h0M925.3 275.8h0M923.0 270.8h0M932.0 278.8h0M929.8 280.8h0M923.0 276.8h0M929.8 270.8h0M920.8 271.8h0M929.8 275.8h0M925.3 282.8h0M927.5 279.8h0M920.8 279.8h0M923.0 266.8h0M927.5 269.8h0M929.8 276.8h0M927.5 276.8h0M925.3 268.8h0M927.5 275.8h0M927.5 281.8h0M932.0 275.8h0M927.5 272.8h0M927.5 277.8h0M927.5 280.8h0M932.0 272.8h0M927.5 278.8h0M920.8 277.8h0M932.0 271.8h0M925.3 270.8h0M905.6 305.6h0M876.0 303.6h0M901.6 302.6h0M898.2 306.6h0M903.1 302.6h0M882.2 302.6h0M901.6 307.6h0M893.3 302.6h0M895.7 306.6h0M904.4 302.6h0M880.9 302.6h0M892.0 305.6h0M894.2 311.6h0M906.9 302.6h0M906.9 305.6h0M910.6 303.6h0M914.3 303.6h0M901.9 302.6h0M900.7 300.6h0M888.3 305.6h0M888.0 305.6h0M899.4 301.6h0M901.6 301.6h0M894.2 304.6h0M890.8 301.6h0M883.4 303.6h0M899.4 302.6h0M888.0 303.6h0M905.6 306.6h0M899.4 306.6h0M911.8 304.6h0M901.6 298.6h0M882.2 304.6h0M894.2 302.6h0M900.7 305.6h0M888.0 306.6h0M877.2 303.6h0M879.7 302.6h0M894.2 296.6h0M894.5 302.6h0M890.8 302.6h0M898.2 300.6h0M904.4 303.6h0M906.9 303.6h0M909.3 306.6h0M894.5 304.6h0M888.0 302.6h0M894.2 301.6h0M885.9 302.6h0M899.4 304.6h0M876.0 304.6h0M880.9 303.6h0M903.1 305.6h0M910.6 302.6h0M909.3 302.6h0M878.5 304.6h0M901.9 304.6h0M909.3 301.6h0M901.6 304.6h0M887.1 303.6h0M895.7 303.6h0M888.0 304.6h0" stroke="#ff0051"/><path d="M960.0 101.3h0M962.0 110.3h0M945.0 107.3h0M962.0 105.3h0M943.3 96.3h0M940.7 104.3h0M948.4 106.3h0M953.6 102.3h0M940.7 107.3h0M948.4 98.3h0M962.0 106.3h0M938.1 101.3h0M938.1 102.3h0M932.9 103.3h0M945.9 98.3h0M938.1 96.3h0M945.0 105.3h0M962.0 104.3h0M962.0 101.3h0M958.8 105.3h0M938.1 108.3h0M945.9 106.3h0M945.9 97.3h0M948.4 102.3h0M962.0 98.3h0M945.7 130.0h0M934.8 130.0h0M939.2 130.0h0M956.6 130.0h0M950.0 138.0h0M934.8 133.0h0M950.0 133.0h0M926.1 130.0h0M945.7 132.0h0M939.2 135.0h0M941.4 134.0h0M913.1 131.0h0M958.8 130.0h0M928.3 130.0h0M941.4 128.0h0M952.6 134.0h0M950.0 126.0h0M950.0 127.0h0M950.0 131.0h0M950.0 139.0h0M943.6 132.0h0M932.7 132.0h0M950.0 125.0h0M924.0 131.0h0M926.1 132.0h0M924.8 159.8h0M917.5 159.8h0" stroke="#df0086"/><path d="M952.2 43.8h0M941.3 43.8h0M956.0 46.8h0M968.5 46.8h0M965.8 45.8h0M968.5 43.8h0M944.0 44.8h0M971.3 46.8h0M960.4 45.8h0M956.0 42.8h0M979.4 43.8h0M960.4 43.8h0M976.7 44.8h0M979.4 45.8h0M946.8 44.8h0M979.4 46.8h0M947.6 42.8h0M961.6 73.5h0M974.8 71.5h0M969.5 72.5h0M974.8 73.5h0M835.0 160.8h0M832.0 163.8h0M827.7 158.8h0M833.2 157.8h0M935.4 219.3h0M930.5 218.3h0M922.3 219.3h0M919.0 216.3h0M930.8 222.3h0" stroke="#4c63e3"/><path d="M963.1 44.8h0M977.6 44.8h0M977.6 51.8h0M947.6 47.8h0M947.6 42.8h0M974.0 44.8h0M965.7 48.8h0M938.6 44.8h0M979.4 44.8h0M946.8 45.8h0M947.6 46.8h0M963.1 42.8h0M977.6 48.8h0M947.6 41.8h0M938.6 43.8h0M973.2 43.8h0M954.9 46.8h0M947.6 47.8h0M977.6 50.8h0M971.3 44.8h0M947.6 44.8h0M974.0 43.8h0M947.6 40.8h0M965.7 42.8h0M960.0 46.8h0M977.6 45.8h0M976.7 45.8h0M941.3 45.8h0M977.6 46.8h0M976.4 81.5h0M976.4 68.5h0M929.8 74.5h0M976.4 75.5h0M948.3 74.5h0M976.4 78.5h0M967.6 76.5h0M982.8 73.5h0M964.2 74.5h0M966.9 73.5h0M976.4 66.5h0M956.2 73.5h0M976.4 76.5h0M976.4 79.5h0M958.9 75.5h0M967.6 73.5h0M832.0 160.8h0M829.6 161.8h0M832.0 156.8h0M811.2 159.8h0M832.0 159.8h0M822.2 160.8h0M831.4 161.8h0M832.0 161.8h0M832.0 159.8h0M858.9 159.8h0M832.0 157.8h0M827.7 161.8h0M820.4 159.8h0M832.0 155.8h0M816.7 159.8h0M944.4 192.6h0M944.4 185.6h0M928.9 186.6h0M944.4 181.6h0M934.1 189.6h0M932.4 187.6h0M944.4 188.6h0M935.9 187.6h0M930.6 188.6h0M948.2 189.6h0M944.4 196.6h0M939.4 189.6h0M939.4 192.6h0M934.0 186.6h0M944.4 189.6h0M939.4 186.6h0M916.5 188.6h0M938.8 211.3h0M938.8 224.3h0M938.8 219.3h0M930.8 211.3h0M938.8 215.3h0M923.9 216.3h0M938.8 223.3h0M938.8 212.3h0M933.7 218.3h0M923.9 219.3h0M938.8 210.3h0M938.8 218.3h0M930.8 216.3h0M938.8 221.3h0M935.4 214.3h0M930.8 223.3h0M942.0 217.3h0M930.8 214.3h0M835.3 274.8h0M762.7 274.8h0M850.4 274.8h0M856.8 274.8h0" stroke="#9233b9"/><path d="M946.8 46.8h0M905.7 44.8h0M968.5 44.8h0M976.7 46.8h0M987.6 44.8h0M919.5 43.8h0M965.8 44.8h0M947.6 43.8h0M935.9 46.8h0M922.2 45.8h0M982.2 44.8h0M930.4 45.8h0M966.9 72.5h0M961.6 72.5h0M958.9 74.5h0M972.2 71.5h0M974.8 75.5h0M969.5 75.5h0M958.9 71.5h0M985.4 74.5h0M921.8 73.5h0M953.6 72.5h0M930.3 101.3h0M953.6 105.3h0M943.3 104.3h0M943.3 100.3h0M945.0 101.3h0M945.9 99.3h0M964.0 104.3h0M960.0 107.3h0M927.7 102.3h0M956.2 105.3h0M945.0 108.3h0M945.9 104.3h0M930.3 102.3h0M951.0 99.3h0M940.7 99.3h0M941.0 132.0h0M903.8 131.0h0M945.7 131.0h0M939.2 129.0h0M943.6 131.0h0M954.4 132.0h0M846.0 159.8h0M846.0 161.8h0M822.2 159.8h0M849.7 159.8h0M886.3 159.8h0M877.2 159.8h0M907.5 159.8h0M890.0 159.8h0M842.4 161.8h0M869.9 159.8h0M934.1 186.6h0M934.1 188.6h0M925.3 189.6h0M913.0 189.6h0M937.7 187.6h0M939.4 188.6h0M928.9 190.6h0M937.7 188.6h0M928.9 189.6h0M937.7 186.6h0M934.0 191.6h0M920.0 188.6h0M927.1 187.6h0M918.3 188.6h0M939.4 191.6h0M919.0 217.3h0M927.2 220.3h0M933.7 216.3h0M927.2 216.3h0M932.1 216.3h0M927.2 219.3h0M933.7 217.3h0M928.8 220.3h0M930.8 212.3h0M925.5 219.3h0M930.8 213.3h0M925.5 217.3h0M919.0 219.3h0M933.7 221.3h0M922.3 215.3h0M932.1 218.3h0M932.6 247.1h0M950.2 246.1h0M987.1 246.1h0M922.1 246.1h0M925.6 245.1h0M1004.7 246.1h0M927.4 247.1h0M1015.2 246.1h0M936.1 247.1h0M937.9 247.1h0M927.4 245.1h0M957.2 246.1h0M948.4 246.1h0M920.3 247.1h0M978.3 246.1h0M920.3 246.1h0M821.8 274.8h0M821.8 275.8h0M806.1 274.8h0M803.9 275.8h0M819.6 274.8h0M781.4 274.8h0M817.4 274.8h0M826.3 274.8h0M976.0 303.6h0M955.0 304.6h0M951.3 302.6h0M935.2 303.6h0M979.7 304.6h0M993.2 303.6h0M992.0 304.6h0M956.2 304.6h0M990.8 303.6h0M942.6 303.6h0" stroke="#008bfb"/><path d="M769.8 45.8h0M737.3 42.8h0M737.3 47.8h0M769.8 44.8h0M737.3 43.8h0M788.8 45.8h0M737.3 48.8h0M734.4 45.8h0M903.2 44.8h0M737.3 49.8h0M726.2 44.8h0M791.5 44.8h0M715.3 44.8h0M861.3 44.8h0M728.4 73.5h0M752.2 73.5h0M749.6 74.5h0M739.0 74.5h0M780.0 76.5h0M786.7 74.5h0M890.0 73.5h0M739.0 73.5h0M778.7 73.5h0M826.4 73.5h0M744.2 73.5h0M780.0 71.5h0M845.0 73.5h0M823.8 73.5h0M784.0 74.5h0M781.4 74.5h0M859.2 73.5h0M802.6 73.5h0M882.5 73.5h0M818.5 73.5h0M728.4 74.5h0M746.9 73.5h0M708.0 99.3h0M708.0 100.3h0M958.8 101.3h0M710.0 104.3h0M935.5 107.3h0M751.5 102.3h0M707.4 104.3h0M707.4 105.3h0M932.9 104.3h0M712.6 102.3h0M948.4 103.3h0M712.6 104.3h0M945.0 99.3h0M850.4 102.3h0M708.0 104.3h0M704.8 102.3h0M769.6 102.3h0M707.4 103.3h0M945.0 100.3h0M707.4 102.3h0M728.1 102.3h0M935.5 106.3h0M953.6 104.3h0M749.0 125.0h0M749.0 132.0h0M811.0 131.0h0M749.0 135.0h0M843.4 131.0h0M749.0 126.0h0M749.0 128.0h0M769.3 131.0h0M773.2 131.0h0M749.0 130.0h0M773.2 129.0h0M765.0 131.0h0M799.8 132.0h0M773.2 134.0h0M793.3 131.0h0M765.0 132.0h0M835.1 131.0h0M773.2 130.0h0M749.0 127.0h0M767.1 131.0h0M749.0 134.0h0M939.5 161.8h0M977.9 160.8h0M935.8 160.8h0M965.1 161.8h0M974.3 160.8h0M962.8 165.8h0M965.1 160.8h0M946.8 160.8h0M941.3 160.8h0M970.6 159.8h0M967.0 158.8h0M962.8 161.8h0M956.0 161.8h0M962.8 152.8h0M950.5 158.8h0M962.8 164.8h0M956.0 162.8h0M970.6 158.8h0M954.1 159.8h0M962.8 162.8h0M968.8 159.8h0M968.8 160.8h0M946.8 159.8h0M970.6 160.8h0M968.8 158.8h0M943.1 160.8h0M967.0 160.8h0M977.9 159.8h0M992.6 159.8h0M939.5 160.8h0M948.6 159.8h0M962.8 154.8h0M935.8 161.8h0M919.3 159.8h0M779.1 188.6h0M773.8 187.6h0M783.2 186.6h0M783.2 191.6h0M810.8 188.6h0M814.3 188.6h0M812.6 188.6h0M787.9 188.6h0M773.8 188.6h0M804.0 219.3h0M804.0 218.3h0M795.8 217.3h0M805.7 217.3h0M807.3 216.3h0M794.2 217.3h0M792.5 216.3h0M805.0 215.3h0M790.9 217.3h0M802.4 216.3h0M805.0 220.3h0M797.5 217.3h0M789.3 217.3h0M804.0 215.3h0M802.4 217.3h0M800.7 219.3h0M899.2 246.1h0M895.7 246.1h0M902.8 247.1h0M909.8 246.1h0M890.5 246.1h0M883.4 247.1h0M901.0 241.1h0M892.2 245.1h0M886.9 246.1h0M839.5 246.1h0M911.5 245.1h0M904.5 248.1h0M894.0 248.1h0M858.8 246.1h0M883.4 245.1h0M892.2 246.1h0M908.0 246.1h0M885.2 246.1h0M901.0 244.1h0M901.0 249.1h0M904.5 245.1h0M892.2 247.1h0M876.4 247.1h0M872.9 246.1h0M908.0 247.1h0M883.4 246.1h0M881.7 247.1h0M855.3 246.1h0M902.8 250.1h0M902.8 246.1h0M881.7 246.1h0M890.5 245.1h0M901.0 242.1h0M901.0 244.1h0M902.8 244.1h0M871.1 246.1h0M901.0 245.1h0M867.6 246.1h0M892.2 247.1h0M901.0 253.1h0M892.2 246.1h0M901.0 250.1h0M920.8 275.8h0M929.8 273.8h0M927.5 267.8h0M927.5 268.8h0M925.3 278.8h0M925.3 276.8h0M920.8 281.8h0M932.0 274.8h0M925.3 281.8h0M927.5 273.8h0M923.0 280.8h0M920.8 274.8h0M932.0 273.8h0M923.0 279.8h0M925.3 272.8h0M923.0 281.8h0M925.3 280.8h0M929.8 277.8h0M923.0 268.8h0M932.0 276.8h0M929.8 279.8h0M929.8 278.8h0M923.0 274.8h0M929.8 268.8h0M927.5 266.8h0M892.0 302.6h0M901.6 302.6h0M903.1 301.6h0M887.1 304.6h0M899.4 305.6h0M889.6 302.6h0M904.4 301.6h0M894.5 303.6h0M903.1 304.6h0M905.6 303.6h0M894.5 305.6h0M898.2 307.6h0M892.0 303.6h0M894.2 309.6h0M905.6 302.6h0M877.2 304.6h0M894.2 301.6h0M897.0 305.6h0M888.3 304.6h0M879.7 303.6h0M901.6 301.6h0M911.8 303.6h0M900.7 301.6h0M894.2 304.6h0M905.6 304.6h0M901.6 308.6h0M900.7 303.6h0M890.8 303.6h0M876.0 302.6h0M894.2 297.6h0M901.6 305.6h0M913.0 303.6h0M888.3 303.6h0M901.6 304.6h0M884.6 302.6h0M901.6 309.6h0M889.6 305.6h0M901.6 300.6h0M895.7 301.6h0M898.2 301.6h0M894.2 300.6h0M890.8 300.6h0M901.6 303.6h0M914.3 304.6h0M894.2 303.6h0M906.9 304.6h0M901.6 305.6h0M908.1 304.6h0M897.0 304.6h0M897.0 302.6h0M901.6 299.6h0M894.2 305.6h0M908.1 302.6h0M885.9 304.6h0M900.7 302.6h0M894.2 307.6h0M899.4 303.6h0M889.6 303.6h0M897.0 301.6h0M893.3 304.6h0M890.8 304.6h0M906.9 301.6h0M901.9 303.6h0M901.6 306.6h0M885.9 303.6h0M884.6 305.6h0M898.2 304.6h0" stroke="#ff0051"/><path d="M953.6 101.3h0M945.9 102.3h0M943.3 101.3h0M935.5 99.3h0M940.7 101.3h0M943.3 98.3h0M962.0 107.3h0M956.2 100.3h0M962.0 96.3h0M958.8 100.3h0M935.5 104.3h0M960.0 104.3h0M951.0 105.3h0M951.0 103.3h0M945.9 107.3h0M935.5 100.3h0M962.0 99.3h0M962.0 102.3h0M948.4 105.3h0M960.0 98.3h0M940.7 103.3h0M938.1 107.3h0M962.0 97.3h0M940.7 100.3h0M940.7 97.3h0M932.9 99.3h0M940.7 106.3h0M938.1 104.3h0M935.5 108.3h0M962.0 95.3h0M945.0 103.3h0M941.0 133.0h0M950.0 129.0h0M924.0 133.0h0M943.6 134.0h0M924.0 130.0h0M937.0 132.0h0M943.6 133.0h0M941.0 128.0h0M937.0 128.0h0M943.6 130.0h0M941.0 135.0h0M932.7 130.0h0M941.0 131.0h0M928.3 132.0h0M941.4 130.0h0M945.7 133.0h0M917.4 131.0h0M956.6 131.0h0M928.3 131.0h0M958.8 132.0h0M928.3 133.0h0M958.8 131.0h0M939.2 134.0h0M915.2 131.0h0" stroke="#df0086"/><path d="M737.3 45.8h0M786.1 44.8h0M750.7 43.8h0M737.1 46.8h0M748.0 45.8h0M737.1 42.8h0M728.9 43.8h0M737.1 45.8h0M783.4 45.8h0M828.7 44.8h0M843.2 44.8h0M734.4 44.8h0M737.3 40.8h0M737.1 43.8h0M748.0 44.8h0M753.4 45.8h0M876.0 44.8h0M750.7 45.8h0M737.1 44.8h0M731.6 45.8h0M800.5 44.8h0M758.9 44.8h0M758.9 45.8h0M760.3 73.5h0M757.5 73.5h0M780.0 73.5h0M789.3 74.5h0M725.7 74.5h0M725.7 72.5h0M768.1 74.5h0M781.4 72.5h0M813.2 73.5h0M744.2 74.5h0M754.9 73.5h0M780.0 75.5h0M839.7 73.5h0M789.3 73.5h0M778.7 72.5h0M799.9 73.5h0M768.1 73.5h0M780.0 74.5h0M770.8 73.5h0M794.6 73.5h0M945.0 106.3h0M707.4 101.3h0M767.0 102.3h0M932.9 98.3h0M712.6 99.3h0M943.3 103.3h0M710.0 105.3h0M948.4 101.3h0M710.0 101.3h0M710.0 100.3h0M708.0 102.3h0M764.4 102.3h0M956.2 103.3h0M769.6 103.3h0M712.6 101.3h0M943.3 108.3h0M751.5 103.3h0M735.9 103.3h0M735.9 102.3h0M712.6 105.3h0M704.8 101.3h0M847.7 131.0h0M773.7 130.0h0M784.6 132.0h0M749.0 133.0h0M799.8 131.0h0M749.0 136.0h0M856.8 131.0h0M771.5 132.0h0M773.2 132.0h0M749.0 129.0h0M780.2 131.0h0M802.0 131.0h0M784.6 131.0h0M957.8 158.8h0M950.5 160.8h0M974.3 159.8h0M952.3 158.8h0M952.3 160.8h0M935.8 159.8h0M954.1 161.8h0M956.0 160.8h0M962.8 155.8h0M953.0 159.8h0M962.8 166.8h0M957.8 159.8h0M939.5 159.8h0M965.1 159.8h0M950.5 161.8h0M937.6 161.8h0M952.3 159.8h0M972.4 160.8h0M959.6 160.8h0M962.8 163.8h0M956.0 159.8h0M967.0 159.8h0M962.8 153.8h0M954.1 158.8h0M953.0 161.8h0M959.6 158.8h0M937.6 159.8h0M979.8 159.8h0M945.0 160.8h0M939.5 158.8h0M816.1 188.6h0M803.8 188.6h0M828.4 188.6h0M779.1 189.6h0M795.0 188.6h0M842.5 188.6h0M810.8 189.6h0M844.3 188.6h0M783.2 188.6h0M824.9 188.6h0M783.2 184.6h0M839.0 188.6h0M783.2 187.6h0M783.2 190.6h0M800.7 216.3h0M800.7 218.3h0M805.0 217.3h0M802.4 218.3h0M792.5 218.3h0M805.7 215.3h0M795.8 218.3h0M839.5 217.3h0M802.4 219.3h0M792.5 217.3h0M805.0 219.3h0M807.3 218.3h0M807.3 219.3h0M827.0 217.3h0M804.0 217.3h0M805.7 219.3h0M794.2 218.3h0M879.9 246.1h0M879.9 245.1h0M911.5 246.1h0M892.2 249.1h0M878.2 247.1h0M901.0 246.1h0M901.0 239.1h0M901.0 245.1h0M901.0 249.1h0M899.2 249.1h0M899.2 245.1h0M911.5 247.1h0M897.5 248.1h0M906.3 246.1h0M894.0 245.1h0M892.2 245.1h0M892.2 248.1h0M865.9 246.1h0M908.0 245.1h0M890.5 248.1h0M892.2 244.1h0M888.7 246.1h0M894.0 244.1h0M897.5 245.1h0M902.8 249.1h0M906.3 245.1h0M892.2 249.1h0M909.8 247.1h0M895.7 247.1h0M901.0 243.1h0M888.7 247.1h0M878.2 246.1h0M858.8 247.1h0M901.0 248.1h0M906.3 247.1h0M901.0 245.1h0M901.0 252.1h0M902.8 248.1h0M892.2 248.1h0M894.0 247.1h0M860.6 246.1h0M890.5 249.1h0M876.4 245.1h0M894.0 246.1h0M929.8 272.8h0M929.8 269.8h0M923.0 278.8h0M927.5 274.8h0M923.0 272.8h0M920.8 280.8h0M925.3 274.8h0M927.5 270.8h0M923.0 277.8h0M929.8 267.8h0M920.8 272.8h0M923.0 275.8h0M929.8 274.8h0M925.3 273.8h0M925.3 277.8h0M927.5 282.8h0M920.8 278.8h0M923.0 267.8h0M925.3 267.8h0M927.5 271.8h0M920.8 276.8h0M920.8 269.8h0M920.8 270.8h0M923.0 271.8h0M925.3 266.8h0M925.3 283.8h0M925.3 279.8h0M920.8 273.8h0M923.0 269.8h0M925.3 271.8h0M923.0 273.8h0M920.8 268.8h0M925.3 269.8h0M894.2 300.6h0M894.2 303.6h0M885.9 305.6h0M908.1 303.6h0M888.3 302.6h0M898.2 302.6h0M895.7 304.6h0M884.6 304.6h0M887.1 302.6h0M894.2 310.6h0M900.7 306.6h0M909.3 305.6h0M909.3 303.6h0M898.2 303.6h0M904.4 305.6h0M895.7 305.6h0M880.9 304.6h0M894.2 307.6h0M894.2 306.6h0M903.1 303.6h0M911.8 302.6h0M915.5 303.6h0M890.8 306.6h0M878.5 303.6h0M906.9 306.6h0M895.7 302.6h0M884.6 303.6h0M892.0 304.6h0M910.6 304.6h0M894.2 305.6h0M894.2 306.6h0M894.2 298.6h0M897.0 303.6h0M893.3 305.6h0M908.1 305.6h0M900.7 304.6h0M882.2 303.6h0M894.5 301.6h0M894.2 308.6h0M894.5 300.6h0M909.3 304.6h0M901.6 307.6h0M901.6 306.6h0M901.6 303.6h0M888.0 301.6h0M890.8 305.6h0M908.1 301.6h0M879.7 304.6h0M894.2 299.6h0M888.0 300.6h0M901.9 305.6h0M905.6 301.6h0M897.0 306.6h0M898.2 305.6h0M894.5 306.6h0M889.6 304.6h0M893.3 303.6h0M904.4 304.6h0M894.2 302.6h0M901.6 300.6h0" stroke="#ff0051"/><path d="M935.9 44.8h0M944.0 47.8h0M956.0 43.8h0M949.5 43.8h0M960.0 45.8h0M960.0 44.8h0M957.6 46.8h0M944.0 45.8h0M956.0 41.8h0M954.9 42.8h0M946.8 43.8h0M960.0 47.8h0M965.8 43.8h0M960.0 43.8h0M974.0 45.8h0M935.9 43.8h0M971.3 45.8h0M960.4 44.8h0M953.6 73.5h0M961.6 70.5h0M956.2 74.5h0M966.9 71.5h0M964.2 73.5h0M967.6 74.5h0M972.2 73.5h0M958.9 73.5h0M960.0 74.5h0M967.6 75.5h0M974.8 72.5h0M831.4 159.8h0M832.0 161.8h0M831.4 160.8h0M832.0 158.8h0M832.0 157.8h0M829.6 162.8h0M833.2 162.8h0M935.4 216.3h0M920.6 216.3h0M933.7 220.3h0M935.4 217.3h0M922.3 217.3h0M928.8 218.3h0M933.7 213.3h0M920.6 217.3h0M930.8 218.3h0" stroke="#4c63e3"/><path d="M957.6 45.8h0M977.6 43.8h0M947.6 44.8h0M965.8 42.8h0M974.0 46.8h0M957.6 44.8h0M965.7 41.8h0M947.6 43.8h0M965.7 45.8h0M965.7 49.8h0M965.7 47.8h0M965.7 43.8h0M947.6 48.8h0M965.7 40.8h0M911.9 44.8h0M977.6 38.8h0M947.6 45.8h0M977.6 41.8h0M947.6 45.8h0M973.2 47.8h0M938.6 45.8h0M977.6 47.8h0M969.5 74.5h0M953.6 74.5h0M976.4 71.5h0M960.0 70.5h0M960.0 76.5h0M927.1 73.5h0M976.4 77.5h0M951.0 73.5h0M976.4 72.5h0M960.0 72.5h0M846.0 160.8h0M833.2 161.8h0M829.6 160.8h0M842.4 158.8h0M832.0 158.8h0M811.2 160.8h0M832.0 160.8h0M862.5 159.8h0M832.0 163.8h0M829.6 158.8h0M847.9 160.8h0M832.0 155.8h0M831.4 157.8h0M847.9 158.8h0M946.5 188.6h0M944.4 183.6h0M934.0 184.6h0M928.9 187.6h0M935.9 186.6h0M934.0 190.6h0M950.0 189.6h0M934.1 190.6h0M928.9 191.6h0M934.0 187.6h0M944.4 193.6h0M930.6 187.6h0M935.9 190.6h0M944.4 182.6h0M934.0 185.6h0M932.4 188.6h0M932.4 189.6h0M938.8 222.3h0M928.8 217.3h0M938.8 216.3h0M927.2 217.3h0M938.8 220.3h0M930.5 221.3h0M938.8 217.3h0M938.8 213.3h0M930.5 219.3h0M943.6 217.3h0M928.8 219.3h0M940.3 216.3h0M930.8 220.3h0" stroke="#9233b9"/><path d="M957.6 42.8h0M952.2 45.8h0M933.1 44.8h0M925.0 44.8h0M954.9 44.8h0M933.1 45.8h0M930.4 43.8h0M927.7 43.8h0M940.4 74.5h0M974.8 76.5h0M932.4 73.5h0M927.1 72.5h0M940.4 73.5h0M990.7 73.5h0M972.2 75.5h0M961.6 71.5h0M951.0 74.5h0M956.2 72.5h0M966.9 75.5h0M958.9 70.5h0M953.6 103.3h0M932.9 100.3h0M935.5 105.3h0M960.0 105.3h0M938.1 103.3h0M945.9 101.3h0M935.5 98.3h0M953.6 100.3h0M932.9 102.3h0M951.0 100.3h0M927.7 103.3h0M938.1 99.3h0M938.1 105.3h0M940.7 102.3h0M943.3 99.3h0M948.4 104.3h0M943.3 107.3h0M943.3 102.3h0M945.0 104.3h0M935.5 101.3h0M922.5 102.3h0M948.4 99.3h0M960.0 103.3h0M937.0 130.0h0M941.4 135.0h0M941.4 133.0h0M941.0 134.0h0M956.6 132.0h0M941.0 129.0h0M937.0 134.0h0M943.6 129.0h0M956.6 133.0h0M954.4 131.0h0M937.0 133.0h0M939.2 132.0h0M941.4 129.0h0M952.6 132.0h0M840.5 159.8h0M842.4 159.8h0M884.5 159.8h0M847.9 159.8h0M893.7 159.8h0M835.0 159.8h0M836.9 159.8h0M900.0 159.8h0M838.7 159.8h0M835.0 160.8h0M864.4 159.8h0M857.0 159.8h0M921.8 188.6h0M914.8 188.6h0M935.9 188.6h0M930.6 186.6h0M934.0 193.6h0M910.0 188.6h0M927.1 188.6h0M939.4 190.6h0M916.5 189.6h0M937.7 189.6h0M927.2 215.3h0M930.8 221.3h0M932.1 214.3h0M923.9 218.3h0M928.8 215.3h0M925.5 215.3h0M930.5 222.3h0M927.2 218.3h0M930.5 213.3h0M935.4 220.3h0M930.5 217.3h0M925.5 220.3h0M923.9 217.3h0M915.7 218.3h0M930.5 216.3h0M976.5 246.1h0M929.1 246.1h0M937.9 245.1h0M973.0 246.1h0M964.2 246.1h0M1002.9 246.1h0M929.1 247.1h0M922.1 247.1h0M964.2 247.1h0M932.6 246.1h0M923.8 246.1h0M936.1 245.1h0M1001.1 246.1h0M937.9 246.1h0M803.9 274.8h0M717.7 274.8h0M824.1 274.8h0M783.6 274.8h0M707.2 274.8h0M953.7 303.6h0M956.2 303.6h0M992.0 303.6h0M962.4 303.6h0M987.1 303.6h0M947.6 303.6h0M989.5 303.6h0M935.2 304.6h0M957.4 303.6h0M987.1 304.6h0M936.5 303.6h0M955.0 303.6h0M950.0 303.6h0M953.7 304.6h0M951.3 304.6h0M995.7 304.6h0M979.7 303.6h0" stroke="#008bfb"/><path d="M940.7 108.3h0M945.9 103.3h0M940.7 98.3h0M962.0 103.3h0M960.0 99.3h0M948.4 97.3h0M940.7 105.3h0M938.1 106.3h0M932.9 106.3h0M962.0 100.3h0M962.0 108.3h0M956.2 101.3h0M951.0 104.3h0M956.2 102.3h0M938.1 97.3h0M948.4 100.3h0M935.5 103.3h0M943.3 97.3h0M943.3 105.3h0M962.0 109.3h0M945.9 100.3h0M956.2 104.3h0M951.0 102.3h0M951.0 101.3h0M921.8 131.0h0M950.0 137.0h0M952.6 133.0h0M937.0 129.0h0M950.0 134.0h0M950.0 130.0h0M950.0 128.0h0M932.7 131.0h0M934.8 131.0h0M958.8 129.0h0M941.0 127.0h0M958.8 133.0h0M908.2 131.0h0M924.0 132.0h0M937.0 131.0h0M950.0 135.0h0M926.1 131.0h0M950.0 132.0h0M934.8 132.0h0M930.5 131.0h0M950.0 124.0h0M919.6 131.0h0M941.4 131.0h0M950.0 136.0h0M921.8 132.0h0" stroke="#df0086"/></g></g><line x1="690.8" y1="768.7" x2="1031.0" y2="768.7" stroke="#7a7a7a" stroke-width="1.3"/><line x1="733.2" y1="768.7" x2="733.2" y2="772.3" stroke="#3a3a3a" stroke-width="1"/><text x="733.2" y="782.8" text-anchor="middle" font-size="10.6" fill="#404040" textLength="24.6" lengthAdjust="spacingAndGlyphs">−0.3</text><line x1="794.1" y1="768.7" x2="794.1" y2="772.3" stroke="#3a3a3a" stroke-width="1"/><text x="794.1" y="782.8" text-anchor="middle" font-size="10.6" fill="#404040" textLength="24.6" lengthAdjust="spacingAndGlyphs">−0.2</text><line x1="855.1" y1="768.7" x2="855.1" y2="772.3" stroke="#3a3a3a" stroke-width="1"/><text x="855.1" y="782.8" text-anchor="middle" font-size="10.6" fill="#404040" textLength="24.6" lengthAdjust="spacingAndGlyphs">−0.1</text><line x1="916.1" y1="768.7" x2="916.1" y2="772.3" stroke="#3a3a3a" stroke-width="1"/><text x="916.1" y="782.8" text-anchor="middle" font-size="10.6" fill="#404040" textLength="16.1" lengthAdjust="spacingAndGlyphs">0.0</text><line x1="977.1" y1="768.7" x2="977.1" y2="772.3" stroke="#3a3a3a" stroke-width="1"/><text x="977.1" y="782.8" text-anchor="middle" font-size="10.6" fill="#404040" textLength="16.1" lengthAdjust="spacingAndGlyphs">0.1</text><text x="860.0" y="798.0" text-anchor="middle" font-size="11.5" fill="#222" textLength="229" lengthAdjust="spacingAndGlyphs">SHAP value (impact on model output)</text><text x="668.3" y="485.10" text-anchor="end" font-size="12.3" fill="#404040" textLength="61.4" lengthAdjust="spacingAndGlyphs">X2540434</text><text x="668.3" y="513.86" text-anchor="end" font-size="12.3" fill="#404040" textLength="72.8" lengthAdjust="spacingAndGlyphs">X2540434.1</text><text x="668.3" y="542.62" text-anchor="end" font-size="12.3" fill="#404040" textLength="61.4" lengthAdjust="spacingAndGlyphs">X3642836</text><text x="668.3" y="571.38" text-anchor="end" font-size="12.3" fill="#404040" textLength="61.4" lengthAdjust="spacingAndGlyphs">X4441501</text><text x="668.3" y="600.14" text-anchor="end" font-size="12.3" fill="#404040" textLength="61.4" lengthAdjust="spacingAndGlyphs">X4421044</text><text x="668.3" y="628.90" text-anchor="end" font-size="12.3" fill="#404040" textLength="61.4" lengthAdjust="spacingAndGlyphs">X4172893</text><text x="668.3" y="657.66" text-anchor="end" font-size="12.3" fill="#404040" textLength="61.4" lengthAdjust="spacingAndGlyphs">X2957424</text><text x="668.3" y="686.42" text-anchor="end" font-size="12.3" fill="#404040" textLength="53.8" lengthAdjust="spacingAndGlyphs">X578831</text><text x="668.3" y="715.18" text-anchor="end" font-size="12.3" fill="#404040" textLength="61.4" lengthAdjust="spacingAndGlyphs">X2099059</text><text x="668.3" y="743.94" text-anchor="end" font-size="12.3" fill="#404040" textLength="61.4" lengthAdjust="spacingAndGlyphs">X4040608</text><rect x="1051.9" y="452.0" width="4.4" height="315.5" fill="url(#cb)"/><text x="1059.7" y="455.8" font-size="10.6" fill="#404040" textLength="23.3" lengthAdjust="spacingAndGlyphs">High</text><text x="1059.7" y="772.2" font-size="10.6" fill="#404040" textLength="20.0" lengthAdjust="spacingAndGlyphs">Low</text><text transform="translate(1092.7,610.8) rotate(-90)" text-anchor="middle" font-size="11.5" fill="#404040" textLength="75.7" lengthAdjust="spacingAndGlyphs">Feature value</text><text x="844.1" y="833.6" text-anchor="middle" font-family='"Liberation Serif", serif' font-size="21" fill="#1e1e1e" stroke="#1e1e1e" stroke-width="0.12" textLength="203.4" lengthAdjust="spacingAndGlyphs">(D) Gentamicin (GEN)</text></g>
</svg></body></html>
